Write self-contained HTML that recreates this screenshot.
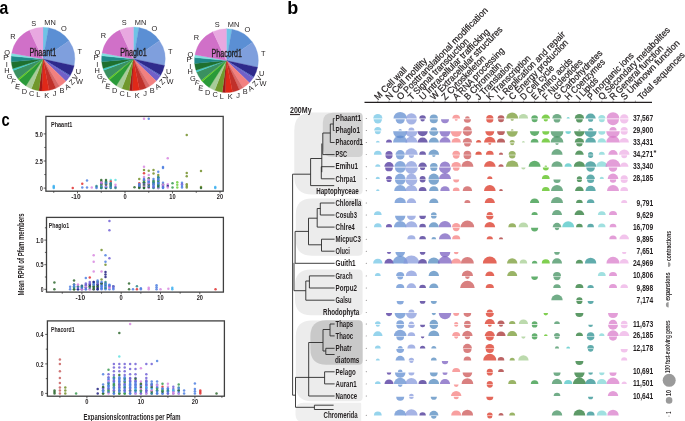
<!DOCTYPE html>
<html><head><meta charset="utf-8"><style>
html,body{margin:0;padding:0;background:#fff;}
svg{display:block;font-family:"Liberation Sans", sans-serif;will-change:transform;}
</style></head><body>
<svg width="685" height="421" viewBox="0 0 685 421">
<rect width="685" height="421" fill="#fff"/>
<text x="-0.50" y="13.80" font-size="18" text-anchor="start" font-weight="bold" textLength="8.80" lengthAdjust="spacingAndGlyphs" fill="#000">a</text>
<text x="287.30" y="13.80" font-size="18" text-anchor="start" font-weight="bold" fill="#000">b</text>
<text x="1.60" y="126.30" font-size="18" text-anchor="start" font-weight="bold" textLength="8.20" lengthAdjust="spacingAndGlyphs" fill="#000">c</text>
<path d="M43.00,59.10L43.00,27.30A31.8,31.8 0 0 1 48.52,27.78Z" fill="#6ec3e6" stroke="#6ec3e6" stroke-width="0.3"/>
<path d="M43.00,59.10L48.52,27.78A31.8,31.8 0 0 1 69.05,40.86Z" fill="#5b8fd4" stroke="#5b8fd4" stroke-width="0.3"/>
<path d="M43.00,59.10L69.05,40.86A31.8,31.8 0 0 1 74.11,65.71Z" fill="#7f9fdd" stroke="#7f9fdd" stroke-width="0.3"/>
<path d="M43.00,59.10L74.11,65.71A31.8,31.8 0 0 1 70.26,75.48Z" fill="#2e2a8c" stroke="#2e2a8c" stroke-width="0.3"/>
<path d="M43.00,59.10L70.26,75.48A31.8,31.8 0 0 1 69.67,76.42Z" fill="#4a60c0" stroke="#4a60c0" stroke-width="0.3"/>
<path d="M43.00,59.10L69.67,76.42A31.8,31.8 0 0 1 65.88,81.19Z" fill="#7060c8" stroke="#7060c8" stroke-width="0.3"/>
<path d="M43.00,59.10L65.88,81.19A31.8,31.8 0 0 1 59.62,86.21Z" fill="#f28080" stroke="#f28080" stroke-width="0.3"/>
<path d="M43.00,59.10L59.62,86.21A31.8,31.8 0 0 1 55.93,88.15Z" fill="#d86868" stroke="#d86868" stroke-width="0.3"/>
<path d="M43.00,59.10L55.93,88.15A31.8,31.8 0 0 1 49.07,90.32Z" fill="#c0302a" stroke="#c0302a" stroke-width="0.3"/>
<path d="M43.00,59.10L49.07,90.32A31.8,31.8 0 0 1 41.89,90.88Z" fill="#e02818" stroke="#e02818" stroke-width="0.3"/>
<path d="M43.00,59.10L41.89,90.88A31.8,31.8 0 0 1 38.85,90.63Z" fill="#a01818" stroke="#a01818" stroke-width="0.3"/>
<path d="M43.00,59.10L38.85,90.63A31.8,31.8 0 0 1 31.35,88.69Z" fill="#70982c" stroke="#70982c" stroke-width="0.3"/>
<path d="M43.00,59.10L31.35,88.69A31.8,31.8 0 0 1 25.91,85.92Z" fill="#a8cc98" stroke="#a8cc98" stroke-width="0.3"/>
<path d="M43.00,59.10L25.91,85.92A31.8,31.8 0 0 1 19.00,79.96Z" fill="#2a9a38" stroke="#2a9a38" stroke-width="0.3"/>
<path d="M43.00,59.10L19.00,79.96A31.8,31.8 0 0 1 17.94,78.68Z" fill="#5cc81c" stroke="#5cc81c" stroke-width="0.3"/>
<path d="M43.00,59.10L17.94,78.68A31.8,31.8 0 0 1 13.31,70.50Z" fill="#3a9060" stroke="#3a9060" stroke-width="0.3"/>
<path d="M43.00,59.10L13.31,70.50A31.8,31.8 0 0 1 12.67,68.66Z" fill="#40c8c8" stroke="#40c8c8" stroke-width="0.3"/>
<path d="M43.00,59.10L12.67,68.66A31.8,31.8 0 0 1 11.32,61.87Z" fill="#1e7030" stroke="#1e7030" stroke-width="0.3"/>
<path d="M43.00,59.10L11.32,61.87A31.8,31.8 0 0 1 11.35,56.05Z" fill="#208888" stroke="#208888" stroke-width="0.3"/>
<path d="M43.00,59.10L11.35,56.05A31.8,31.8 0 0 1 11.73,53.30Z" fill="#80e0e0" stroke="#80e0e0" stroke-width="0.3"/>
<path d="M43.00,59.10L11.73,53.30A31.8,31.8 0 0 1 29.56,30.28Z" fill="#d070c8" stroke="#d070c8" stroke-width="0.3"/>
<path d="M43.00,59.10L29.56,30.28A31.8,31.8 0 0 1 43.00,27.30Z" fill="#e8a8e0" stroke="#e8a8e0" stroke-width="0.3"/>
<text x="29.40" y="56.20" font-size="11.5" text-anchor="start" textLength="26.80" lengthAdjust="spacingAndGlyphs" fill="#231f20" stroke="#231f20" stroke-width="0.35">Phaant1</text>
<text x="33.70" y="25.60" font-size="7.4" text-anchor="middle" fill="#231f20">S</text>
<text x="50.10" y="25.15" font-size="7.4" text-anchor="middle" fill="#231f20">MN</text>
<text x="63.90" y="30.85" font-size="7.4" text-anchor="middle" fill="#231f20">O</text>
<text x="79.80" y="54.10" font-size="7.4" text-anchor="middle" fill="#231f20">T</text>
<text x="13.00" y="38.60" font-size="7.4" text-anchor="middle" fill="#231f20">R</text>
<text x="7.00" y="55.30" font-size="7.4" text-anchor="middle" fill="#231f20">Q</text>
<text x="5.60" y="60.20" font-size="7.4" text-anchor="middle" fill="#231f20">P</text>
<text x="6.80" y="67.10" font-size="7.4" text-anchor="middle" fill="#231f20">I</text>
<text x="6.80" y="72.70" font-size="7.4" text-anchor="middle" fill="#231f20">H</text>
<text x="9.50" y="79.30" font-size="7.4" text-anchor="middle" fill="#231f20">G</text>
<text x="13.60" y="84.00" font-size="7.4" text-anchor="middle" fill="#231f20" transform="rotate(15 13.60 81.40)">F</text>
<text x="17.50" y="89.00" font-size="7.4" text-anchor="middle" fill="#231f20" transform="rotate(8 17.50 86.40)">E</text>
<text x="24.30" y="93.60" font-size="7.4" text-anchor="middle" fill="#231f20">D</text>
<text x="31.70" y="95.90" font-size="7.4" text-anchor="middle" fill="#231f20">C</text>
<text x="38.30" y="97.10" font-size="7.4" text-anchor="middle" fill="#231f20">L</text>
<text x="46.80" y="97.70" font-size="7.4" text-anchor="middle" fill="#231f20">K</text>
<text x="54.60" y="96.20" font-size="7.4" text-anchor="middle" fill="#231f20">J</text>
<text x="61.90" y="92.90" font-size="7.4" text-anchor="middle" fill="#231f20">B</text>
<text x="67.30" y="89.30" font-size="7.4" text-anchor="middle" fill="#231f20" transform="rotate(-30 67.30 86.70)">A</text>
<text x="71.70" y="84.60" font-size="7.4" text-anchor="middle" fill="#231f20" transform="rotate(-45 71.70 82.00)">Z</text>
<text x="75.30" y="79.60" font-size="7.4" text-anchor="middle" fill="#231f20" transform="rotate(-60 75.30 77.00)">V</text>
<text x="78.30" y="74.40" font-size="7.4" text-anchor="middle" fill="#231f20">U</text>
<text x="79.50" y="84.30" font-size="7.4" text-anchor="middle" fill="#231f20">W</text>
<path d="M133.40,58.90L133.40,27.10A31.8,31.8 0 0 1 138.92,27.58Z" fill="#6ec3e6" stroke="#6ec3e6" stroke-width="0.3"/>
<path d="M133.40,58.90L138.92,27.58A31.8,31.8 0 0 1 159.45,40.66Z" fill="#5b8fd4" stroke="#5b8fd4" stroke-width="0.3"/>
<path d="M133.40,58.90L159.45,40.66A31.8,31.8 0 0 1 164.51,65.51Z" fill="#7f9fdd" stroke="#7f9fdd" stroke-width="0.3"/>
<path d="M133.40,58.90L164.51,65.51A31.8,31.8 0 0 1 160.66,75.28Z" fill="#2e2a8c" stroke="#2e2a8c" stroke-width="0.3"/>
<path d="M133.40,58.90L160.66,75.28A31.8,31.8 0 0 1 160.07,76.22Z" fill="#4a60c0" stroke="#4a60c0" stroke-width="0.3"/>
<path d="M133.40,58.90L160.07,76.22A31.8,31.8 0 0 1 156.28,80.99Z" fill="#7060c8" stroke="#7060c8" stroke-width="0.3"/>
<path d="M133.40,58.90L156.28,80.99A31.8,31.8 0 0 1 150.02,86.01Z" fill="#f28080" stroke="#f28080" stroke-width="0.3"/>
<path d="M133.40,58.90L150.02,86.01A31.8,31.8 0 0 1 146.33,87.95Z" fill="#d86868" stroke="#d86868" stroke-width="0.3"/>
<path d="M133.40,58.90L146.33,87.95A31.8,31.8 0 0 1 139.47,90.12Z" fill="#c0302a" stroke="#c0302a" stroke-width="0.3"/>
<path d="M133.40,58.90L139.47,90.12A31.8,31.8 0 0 1 132.29,90.68Z" fill="#e02818" stroke="#e02818" stroke-width="0.3"/>
<path d="M133.40,58.90L132.29,90.68A31.8,31.8 0 0 1 129.25,90.43Z" fill="#a01818" stroke="#a01818" stroke-width="0.3"/>
<path d="M133.40,58.90L129.25,90.43A31.8,31.8 0 0 1 121.75,88.49Z" fill="#70982c" stroke="#70982c" stroke-width="0.3"/>
<path d="M133.40,58.90L121.75,88.49A31.8,31.8 0 0 1 116.31,85.72Z" fill="#a8cc98" stroke="#a8cc98" stroke-width="0.3"/>
<path d="M133.40,58.90L116.31,85.72A31.8,31.8 0 0 1 109.40,79.76Z" fill="#2a9a38" stroke="#2a9a38" stroke-width="0.3"/>
<path d="M133.40,58.90L109.40,79.76A31.8,31.8 0 0 1 108.34,78.48Z" fill="#5cc81c" stroke="#5cc81c" stroke-width="0.3"/>
<path d="M133.40,58.90L108.34,78.48A31.8,31.8 0 0 1 103.71,70.30Z" fill="#3a9060" stroke="#3a9060" stroke-width="0.3"/>
<path d="M133.40,58.90L103.71,70.30A31.8,31.8 0 0 1 103.07,68.46Z" fill="#40c8c8" stroke="#40c8c8" stroke-width="0.3"/>
<path d="M133.40,58.90L103.07,68.46A31.8,31.8 0 0 1 101.72,61.67Z" fill="#1e7030" stroke="#1e7030" stroke-width="0.3"/>
<path d="M133.40,58.90L101.72,61.67A31.8,31.8 0 0 1 101.75,55.85Z" fill="#208888" stroke="#208888" stroke-width="0.3"/>
<path d="M133.40,58.90L101.75,55.85A31.8,31.8 0 0 1 102.13,53.10Z" fill="#80e0e0" stroke="#80e0e0" stroke-width="0.3"/>
<path d="M133.40,58.90L102.13,53.10A31.8,31.8 0 0 1 119.96,30.08Z" fill="#d070c8" stroke="#d070c8" stroke-width="0.3"/>
<path d="M133.40,58.90L119.96,30.08A31.8,31.8 0 0 1 133.40,27.10Z" fill="#e8a8e0" stroke="#e8a8e0" stroke-width="0.3"/>
<text x="120.20" y="55.70" font-size="11.5" text-anchor="start" textLength="26.60" lengthAdjust="spacingAndGlyphs" fill="#231f20" stroke="#231f20" stroke-width="0.35">Phaglo1</text>
<text x="124.10" y="25.40" font-size="7.4" text-anchor="middle" fill="#231f20">S</text>
<text x="140.50" y="24.95" font-size="7.4" text-anchor="middle" fill="#231f20">MN</text>
<text x="154.30" y="30.65" font-size="7.4" text-anchor="middle" fill="#231f20">O</text>
<text x="170.20" y="53.90" font-size="7.4" text-anchor="middle" fill="#231f20">T</text>
<text x="103.40" y="38.40" font-size="7.4" text-anchor="middle" fill="#231f20">R</text>
<text x="97.40" y="55.10" font-size="7.4" text-anchor="middle" fill="#231f20">Q</text>
<text x="96.00" y="60.00" font-size="7.4" text-anchor="middle" fill="#231f20">P</text>
<text x="97.20" y="66.90" font-size="7.4" text-anchor="middle" fill="#231f20">I</text>
<text x="97.20" y="72.50" font-size="7.4" text-anchor="middle" fill="#231f20">H</text>
<text x="99.90" y="79.10" font-size="7.4" text-anchor="middle" fill="#231f20">G</text>
<text x="104.00" y="83.80" font-size="7.4" text-anchor="middle" fill="#231f20" transform="rotate(15 104.00 81.20)">F</text>
<text x="107.90" y="88.80" font-size="7.4" text-anchor="middle" fill="#231f20" transform="rotate(8 107.90 86.20)">E</text>
<text x="114.70" y="93.40" font-size="7.4" text-anchor="middle" fill="#231f20">D</text>
<text x="122.10" y="95.70" font-size="7.4" text-anchor="middle" fill="#231f20">C</text>
<text x="128.70" y="96.90" font-size="7.4" text-anchor="middle" fill="#231f20">L</text>
<text x="137.20" y="97.50" font-size="7.4" text-anchor="middle" fill="#231f20">K</text>
<text x="145.00" y="96.00" font-size="7.4" text-anchor="middle" fill="#231f20">J</text>
<text x="152.30" y="92.70" font-size="7.4" text-anchor="middle" fill="#231f20">B</text>
<text x="157.70" y="89.10" font-size="7.4" text-anchor="middle" fill="#231f20" transform="rotate(-30 157.70 86.50)">A</text>
<text x="162.10" y="84.40" font-size="7.4" text-anchor="middle" fill="#231f20" transform="rotate(-45 162.10 81.80)">Z</text>
<text x="165.70" y="79.40" font-size="7.4" text-anchor="middle" fill="#231f20" transform="rotate(-60 165.70 76.80)">V</text>
<text x="168.70" y="74.20" font-size="7.4" text-anchor="middle" fill="#231f20">U</text>
<text x="169.90" y="84.10" font-size="7.4" text-anchor="middle" fill="#231f20">W</text>
<path d="M226.40,60.60L226.40,28.70A31.9,31.9 0 0 1 231.94,29.18Z" fill="#6ec3e6" stroke="#6ec3e6" stroke-width="0.3"/>
<path d="M226.40,60.60L231.94,29.18A31.9,31.9 0 0 1 252.53,42.30Z" fill="#5b8fd4" stroke="#5b8fd4" stroke-width="0.3"/>
<path d="M226.40,60.60L252.53,42.30A31.9,31.9 0 0 1 257.60,67.23Z" fill="#7f9fdd" stroke="#7f9fdd" stroke-width="0.3"/>
<path d="M226.40,60.60L257.60,67.23A31.9,31.9 0 0 1 253.74,77.03Z" fill="#2e2a8c" stroke="#2e2a8c" stroke-width="0.3"/>
<path d="M226.40,60.60L253.74,77.03A31.9,31.9 0 0 1 253.15,77.97Z" fill="#4a60c0" stroke="#4a60c0" stroke-width="0.3"/>
<path d="M226.40,60.60L253.15,77.97A31.9,31.9 0 0 1 249.35,82.76Z" fill="#7060c8" stroke="#7060c8" stroke-width="0.3"/>
<path d="M226.40,60.60L249.35,82.76A31.9,31.9 0 0 1 243.07,87.80Z" fill="#f28080" stroke="#f28080" stroke-width="0.3"/>
<path d="M226.40,60.60L243.07,87.80A31.9,31.9 0 0 1 239.37,89.74Z" fill="#d86868" stroke="#d86868" stroke-width="0.3"/>
<path d="M226.40,60.60L239.37,89.74A31.9,31.9 0 0 1 232.49,91.91Z" fill="#c0302a" stroke="#c0302a" stroke-width="0.3"/>
<path d="M226.40,60.60L232.49,91.91A31.9,31.9 0 0 1 225.29,92.48Z" fill="#e02818" stroke="#e02818" stroke-width="0.3"/>
<path d="M226.40,60.60L225.29,92.48A31.9,31.9 0 0 1 222.24,92.23Z" fill="#a01818" stroke="#a01818" stroke-width="0.3"/>
<path d="M226.40,60.60L222.24,92.23A31.9,31.9 0 0 1 214.71,90.28Z" fill="#70982c" stroke="#70982c" stroke-width="0.3"/>
<path d="M226.40,60.60L214.71,90.28A31.9,31.9 0 0 1 209.26,87.50Z" fill="#a8cc98" stroke="#a8cc98" stroke-width="0.3"/>
<path d="M226.40,60.60L209.26,87.50A31.9,31.9 0 0 1 202.32,81.53Z" fill="#2a9a38" stroke="#2a9a38" stroke-width="0.3"/>
<path d="M226.40,60.60L202.32,81.53A31.9,31.9 0 0 1 201.26,80.24Z" fill="#5cc81c" stroke="#5cc81c" stroke-width="0.3"/>
<path d="M226.40,60.60L201.26,80.24A31.9,31.9 0 0 1 196.62,72.03Z" fill="#3a9060" stroke="#3a9060" stroke-width="0.3"/>
<path d="M226.40,60.60L196.62,72.03A31.9,31.9 0 0 1 195.98,70.19Z" fill="#40c8c8" stroke="#40c8c8" stroke-width="0.3"/>
<path d="M226.40,60.60L195.98,70.19A31.9,31.9 0 0 1 194.62,63.38Z" fill="#1e7030" stroke="#1e7030" stroke-width="0.3"/>
<path d="M226.40,60.60L194.62,63.38A31.9,31.9 0 0 1 194.65,57.54Z" fill="#208888" stroke="#208888" stroke-width="0.3"/>
<path d="M226.40,60.60L194.65,57.54A31.9,31.9 0 0 1 195.03,54.79Z" fill="#80e0e0" stroke="#80e0e0" stroke-width="0.3"/>
<path d="M226.40,60.60L195.03,54.79A31.9,31.9 0 0 1 212.92,31.69Z" fill="#d070c8" stroke="#d070c8" stroke-width="0.3"/>
<path d="M226.40,60.60L212.92,31.69A31.9,31.9 0 0 1 226.40,28.70Z" fill="#e8a8e0" stroke="#e8a8e0" stroke-width="0.3"/>
<text x="211.60" y="57.30" font-size="11.5" text-anchor="start" textLength="30.30" lengthAdjust="spacingAndGlyphs" fill="#231f20" stroke="#231f20" stroke-width="0.35">Phacord1</text>
<text x="217.10" y="27.10" font-size="7.4" text-anchor="middle" fill="#231f20">S</text>
<text x="233.50" y="26.65" font-size="7.4" text-anchor="middle" fill="#231f20">MN</text>
<text x="247.30" y="32.35" font-size="7.4" text-anchor="middle" fill="#231f20">O</text>
<text x="263.20" y="55.60" font-size="7.4" text-anchor="middle" fill="#231f20">T</text>
<text x="196.40" y="40.10" font-size="7.4" text-anchor="middle" fill="#231f20">R</text>
<text x="190.40" y="56.80" font-size="7.4" text-anchor="middle" fill="#231f20">Q</text>
<text x="189.00" y="61.70" font-size="7.4" text-anchor="middle" fill="#231f20">P</text>
<text x="190.20" y="68.60" font-size="7.4" text-anchor="middle" fill="#231f20">I</text>
<text x="190.20" y="74.20" font-size="7.4" text-anchor="middle" fill="#231f20">H</text>
<text x="192.90" y="80.80" font-size="7.4" text-anchor="middle" fill="#231f20">G</text>
<text x="197.00" y="85.50" font-size="7.4" text-anchor="middle" fill="#231f20" transform="rotate(15 197.00 82.90)">F</text>
<text x="200.90" y="90.50" font-size="7.4" text-anchor="middle" fill="#231f20" transform="rotate(8 200.90 87.90)">E</text>
<text x="207.70" y="95.10" font-size="7.4" text-anchor="middle" fill="#231f20">D</text>
<text x="215.10" y="97.40" font-size="7.4" text-anchor="middle" fill="#231f20">C</text>
<text x="221.70" y="98.60" font-size="7.4" text-anchor="middle" fill="#231f20">L</text>
<text x="230.20" y="99.20" font-size="7.4" text-anchor="middle" fill="#231f20">K</text>
<text x="238.00" y="97.70" font-size="7.4" text-anchor="middle" fill="#231f20">J</text>
<text x="245.30" y="94.40" font-size="7.4" text-anchor="middle" fill="#231f20">B</text>
<text x="250.70" y="90.80" font-size="7.4" text-anchor="middle" fill="#231f20" transform="rotate(-30 250.70 88.20)">A</text>
<text x="255.10" y="86.10" font-size="7.4" text-anchor="middle" fill="#231f20" transform="rotate(-45 255.10 83.50)">Z</text>
<text x="258.70" y="81.10" font-size="7.4" text-anchor="middle" fill="#231f20" transform="rotate(-60 258.70 78.50)">V</text>
<text x="261.70" y="75.90" font-size="7.4" text-anchor="middle" fill="#231f20">U</text>
<text x="262.90" y="85.80" font-size="7.4" text-anchor="middle" fill="#231f20">W</text>
<text x="378.10" y="100.40" font-size="9.2" textLength="41.80" lengthAdjust="spacingAndGlyphs" fill="#231f20" stroke="#231f20" stroke-width="0.22" transform="rotate(-45.5 378.10 100.40)">M Cell wall</text>
<text x="389.30" y="100.40" font-size="9.2" textLength="54.74" lengthAdjust="spacingAndGlyphs" fill="#231f20" stroke="#231f20" stroke-width="0.22" transform="rotate(-45.5 389.30 100.40)">N Cell motility</text>
<text x="400.50" y="100.40" font-size="9.2" textLength="125.50" lengthAdjust="spacingAndGlyphs" fill="#231f20" stroke="#231f20" stroke-width="0.22" transform="rotate(-45.5 400.50 100.40)">O Posttranslational modification</text>
<text x="411.70" y="100.40" font-size="9.2" textLength="82.30" lengthAdjust="spacingAndGlyphs" fill="#231f20" stroke="#231f20" stroke-width="0.22" transform="rotate(-45.5 411.70 100.40)">T Signal transduction</text>
<text x="422.90" y="100.40" font-size="9.2" textLength="95.79" lengthAdjust="spacingAndGlyphs" fill="#231f20" stroke="#231f20" stroke-width="0.22" transform="rotate(-45.5 422.90 100.40)">U Intracellular trafficking</text>
<text x="434.10" y="100.40" font-size="9.2" textLength="98.55" lengthAdjust="spacingAndGlyphs" fill="#231f20" stroke="#231f20" stroke-width="0.22" transform="rotate(-45.5 434.10 100.40)">W Extracellular structures</text>
<text x="445.30" y="100.40" font-size="9.2" textLength="58.29" lengthAdjust="spacingAndGlyphs" fill="#231f20" stroke="#231f20" stroke-width="0.22" transform="rotate(-45.5 445.30 100.40)">Z Cytoskeleton</text>
<text x="456.50" y="100.40" font-size="9.2" textLength="68.98" lengthAdjust="spacingAndGlyphs" fill="#231f20" stroke="#231f20" stroke-width="0.22" transform="rotate(-45.5 456.50 100.40)">A RNA processing</text>
<text x="467.70" y="100.40" font-size="9.2" textLength="48.63" lengthAdjust="spacingAndGlyphs" fill="#231f20" stroke="#231f20" stroke-width="0.22" transform="rotate(-45.5 467.70 100.40)">B Chromatin</text>
<text x="478.90" y="100.40" font-size="9.2" textLength="48.86" lengthAdjust="spacingAndGlyphs" fill="#231f20" stroke="#231f20" stroke-width="0.22" transform="rotate(-45.5 478.90 100.40)">J Translation</text>
<text x="490.10" y="100.40" font-size="9.2" textLength="58.51" lengthAdjust="spacingAndGlyphs" fill="#231f20" stroke="#231f20" stroke-width="0.22" transform="rotate(-45.5 490.10 100.40)">K Transcription</text>
<text x="501.30" y="100.40" font-size="9.2" textLength="91.87" lengthAdjust="spacingAndGlyphs" fill="#231f20" stroke="#231f20" stroke-width="0.22" transform="rotate(-45.5 501.30 100.40)">L Replication and repair</text>
<text x="512.50" y="100.40" font-size="9.2" textLength="80.28" lengthAdjust="spacingAndGlyphs" fill="#231f20" stroke="#231f20" stroke-width="0.22" transform="rotate(-45.5 512.50 100.40)">C Energy production</text>
<text x="523.70" y="100.40" font-size="9.2" textLength="44.38" lengthAdjust="spacingAndGlyphs" fill="#231f20" stroke="#231f20" stroke-width="0.22" transform="rotate(-45.5 523.70 100.40)">D Cell cycle</text>
<text x="534.90" y="100.40" font-size="9.2" textLength="54.45" lengthAdjust="spacingAndGlyphs" fill="#231f20" stroke="#231f20" stroke-width="0.22" transform="rotate(-45.5 534.90 100.40)">E Amino acids</text>
<text x="546.10" y="100.40" font-size="9.2" textLength="52.99" lengthAdjust="spacingAndGlyphs" fill="#231f20" stroke="#231f20" stroke-width="0.22" transform="rotate(-45.5 546.10 100.40)">F Nucleotides</text>
<text x="557.30" y="100.40" font-size="9.2" textLength="65.37" lengthAdjust="spacingAndGlyphs" fill="#231f20" stroke="#231f20" stroke-width="0.22" transform="rotate(-45.5 557.30 100.40)">G Carbohydrates</text>
<text x="568.50" y="100.40" font-size="9.2" textLength="53.10" lengthAdjust="spacingAndGlyphs" fill="#231f20" stroke="#231f20" stroke-width="0.22" transform="rotate(-45.5 568.50 100.40)">H Coenzymes</text>
<text x="579.70" y="100.40" font-size="9.2" textLength="27.30" lengthAdjust="spacingAndGlyphs" fill="#231f20" stroke="#231f20" stroke-width="0.22" transform="rotate(-45.5 579.70 100.40)">I Lipids</text>
<text x="590.90" y="100.40" font-size="9.2" textLength="62.06" lengthAdjust="spacingAndGlyphs" fill="#231f20" stroke="#231f20" stroke-width="0.22" transform="rotate(-45.5 590.90 100.40)">P Inorganic ions</text>
<text x="602.10" y="100.40" font-size="9.2" textLength="97.86" lengthAdjust="spacingAndGlyphs" fill="#231f20" stroke="#231f20" stroke-width="0.22" transform="rotate(-45.5 602.10 100.40)">Q Secondary metabolites</text>
<text x="613.30" y="100.40" font-size="9.2" textLength="72.23" lengthAdjust="spacingAndGlyphs" fill="#231f20" stroke="#231f20" stroke-width="0.22" transform="rotate(-45.5 613.30 100.40)">R General function</text>
<text x="624.50" y="100.40" font-size="9.2" textLength="79.45" lengthAdjust="spacingAndGlyphs" fill="#231f20" stroke="#231f20" stroke-width="0.22" transform="rotate(-45.5 624.50 100.40)">S Unknown function</text>
<text x="641.40" y="100.40" font-size="9.2" textLength="62.82" lengthAdjust="spacingAndGlyphs" fill="#231f20" stroke="#231f20" stroke-width="0.22" transform="rotate(-45.5 641.40 100.40)">Total sequences</text>
<line x1="364.5" y1="102.4" x2="652" y2="102.4" stroke="#231f20" stroke-width="1.2"/>
<line x1="377.80" y1="100.6" x2="377.80" y2="102" stroke="#231f20" stroke-width="0.4"/>
<line x1="389.00" y1="100.6" x2="389.00" y2="102" stroke="#231f20" stroke-width="0.4"/>
<line x1="400.20" y1="100.6" x2="400.20" y2="102" stroke="#231f20" stroke-width="0.4"/>
<line x1="411.40" y1="100.6" x2="411.40" y2="102" stroke="#231f20" stroke-width="0.4"/>
<line x1="422.60" y1="100.6" x2="422.60" y2="102" stroke="#231f20" stroke-width="0.4"/>
<line x1="433.80" y1="100.6" x2="433.80" y2="102" stroke="#231f20" stroke-width="0.4"/>
<line x1="445.00" y1="100.6" x2="445.00" y2="102" stroke="#231f20" stroke-width="0.4"/>
<line x1="456.20" y1="100.6" x2="456.20" y2="102" stroke="#231f20" stroke-width="0.4"/>
<line x1="467.40" y1="100.6" x2="467.40" y2="102" stroke="#231f20" stroke-width="0.4"/>
<line x1="478.60" y1="100.6" x2="478.60" y2="102" stroke="#231f20" stroke-width="0.4"/>
<line x1="489.80" y1="100.6" x2="489.80" y2="102" stroke="#231f20" stroke-width="0.4"/>
<line x1="501.00" y1="100.6" x2="501.00" y2="102" stroke="#231f20" stroke-width="0.4"/>
<line x1="512.20" y1="100.6" x2="512.20" y2="102" stroke="#231f20" stroke-width="0.4"/>
<line x1="523.40" y1="100.6" x2="523.40" y2="102" stroke="#231f20" stroke-width="0.4"/>
<line x1="534.60" y1="100.6" x2="534.60" y2="102" stroke="#231f20" stroke-width="0.4"/>
<line x1="545.80" y1="100.6" x2="545.80" y2="102" stroke="#231f20" stroke-width="0.4"/>
<line x1="557.00" y1="100.6" x2="557.00" y2="102" stroke="#231f20" stroke-width="0.4"/>
<line x1="568.20" y1="100.6" x2="568.20" y2="102" stroke="#231f20" stroke-width="0.4"/>
<line x1="579.40" y1="100.6" x2="579.40" y2="102" stroke="#231f20" stroke-width="0.4"/>
<line x1="590.60" y1="100.6" x2="590.60" y2="102" stroke="#231f20" stroke-width="0.4"/>
<line x1="601.80" y1="100.6" x2="601.80" y2="102" stroke="#231f20" stroke-width="0.4"/>
<line x1="613.00" y1="100.6" x2="613.00" y2="102" stroke="#231f20" stroke-width="0.4"/>
<line x1="624.20" y1="100.6" x2="624.20" y2="102" stroke="#231f20" stroke-width="0.4"/>
<line x1="635.40" y1="100.6" x2="635.40" y2="102" stroke="#231f20" stroke-width="0.4"/>
<path d="M312.3,112.4 L358.6,112.4 Q362.6,112.4 362.6,116.4 L362.6,190.6 Q362.6,194.6 358.6,194.6 L312.3,194.6 Q294.3,194.6 294.3,176.6 L294.3,130.4 Q294.3,112.4 312.3,112.4 Z" fill="#ececec"/>
<path d="M332.8,112.8 L358.6,112.8 Q362.6,112.8 362.6,116.8 L362.6,153.0 Q362.6,157.0 358.6,157.0 L332.8,157.0 Q322.8,157.0 322.8,147.0 L322.8,122.8 Q322.8,112.8 332.8,112.8 Z" fill="#d2d2d2"/>
<path d="M311.8,198.5 L358.6,198.5 Q362.6,198.5 362.6,202.5 L362.6,251.8 Q362.6,255.8 358.6,255.8 L311.8,255.8 Q295.8,255.8 295.8,239.8 L295.8,214.5 Q295.8,198.5 311.8,198.5 Z" fill="#ececec"/>
<path d="M311.0,269.5 L358.6,269.5 Q362.6,269.5 362.6,273.5 L362.6,311.3 Q362.6,315.3 358.6,315.3 L311.0,315.3 Q295.0,315.3 295.0,299.3 L295.0,285.5 Q295.0,269.5 311.0,269.5 Z" fill="#ececec"/>
<path d="M311.8,320.4 L358.6,320.4 Q362.6,320.4 362.6,324.4 L362.6,397.2 Q362.6,401.2 358.6,401.2 L311.8,401.2 Q295.8,401.2 295.8,385.2 L295.8,336.4 Q295.8,320.4 311.8,320.4 Z" fill="#ececec"/>
<path d="M326.4,320.3 L358.6,320.3 Q362.6,320.3 362.6,324.3 L362.6,360.7 Q362.6,364.7 358.6,364.7 L326.4,364.7 Q310.4,364.7 310.4,348.7 L310.4,336.3 Q310.4,320.3 326.4,320.3 Z" fill="#c9c9c9"/>
<path d="M303.5,402.7 L360.2,402.7 Q361.2,402.7 361.2,403.7 L361.2,421 Q361.2,422 360.2,422 L303.5,422 Q295.5,422 295.5,414 L295.5,410.7 Q295.5,402.7 303.5,402.7 Z" fill="#efefef"/>
<text x="335.50" y="121.25" font-size="9.2" text-anchor="start" font-weight="bold" textLength="25.70" lengthAdjust="spacingAndGlyphs" fill="#231f20">Phaant1</text>
<circle cx="366.2" cy="118.50" r="0.45" fill="#231f20"/>
<text x="335.50" y="133.25" font-size="9.2" text-anchor="start" font-weight="bold" textLength="24.40" lengthAdjust="spacingAndGlyphs" fill="#231f20">Phaglo1</text>
<circle cx="366.2" cy="130.50" r="0.45" fill="#231f20"/>
<text x="335.50" y="145.25" font-size="9.2" text-anchor="start" font-weight="bold" textLength="27.40" lengthAdjust="spacingAndGlyphs" fill="#231f20">Phacord1</text>
<circle cx="366.2" cy="142.50" r="0.45" fill="#231f20"/>
<text x="335.50" y="157.35" font-size="9.2" text-anchor="start" font-weight="bold" textLength="11.50" lengthAdjust="spacingAndGlyphs" fill="#231f20">PSC</text>
<circle cx="366.2" cy="154.60" r="0.45" fill="#231f20"/>
<text x="335.50" y="169.45" font-size="9.2" text-anchor="start" font-weight="bold" textLength="22.40" lengthAdjust="spacingAndGlyphs" fill="#231f20">Emihu1</text>
<circle cx="366.2" cy="166.70" r="0.45" fill="#231f20"/>
<text x="335.50" y="181.55" font-size="9.2" text-anchor="start" font-weight="bold" textLength="20.70" lengthAdjust="spacingAndGlyphs" fill="#231f20">Chrpa1</text>
<circle cx="366.2" cy="178.80" r="0.45" fill="#231f20"/>
<text x="316.20" y="193.55" font-size="9.2" text-anchor="start" font-weight="bold" textLength="42.40" lengthAdjust="spacingAndGlyphs" fill="#231f20">Haptophyceae</text>
<circle cx="366.2" cy="190.80" r="0.45" fill="#231f20"/>
<text x="335.50" y="205.75" font-size="9.2" text-anchor="start" font-weight="bold" textLength="25.90" lengthAdjust="spacingAndGlyphs" fill="#231f20">Chlorella</text>
<circle cx="366.2" cy="203.00" r="0.45" fill="#231f20"/>
<text x="335.50" y="217.75" font-size="9.2" text-anchor="start" font-weight="bold" textLength="21.40" lengthAdjust="spacingAndGlyphs" fill="#231f20">Cosub3</text>
<circle cx="366.2" cy="215.00" r="0.45" fill="#231f20"/>
<text x="335.50" y="229.85" font-size="9.2" text-anchor="start" font-weight="bold" textLength="19.30" lengthAdjust="spacingAndGlyphs" fill="#231f20">Chlre4</text>
<circle cx="366.2" cy="227.10" r="0.45" fill="#231f20"/>
<text x="335.50" y="241.95" font-size="9.2" text-anchor="start" font-weight="bold" textLength="25.30" lengthAdjust="spacingAndGlyphs" fill="#231f20">MicpuC3</text>
<circle cx="366.2" cy="239.20" r="0.45" fill="#231f20"/>
<text x="335.50" y="253.95" font-size="9.2" text-anchor="start" font-weight="bold" textLength="14.30" lengthAdjust="spacingAndGlyphs" fill="#231f20">Oluci</text>
<circle cx="366.2" cy="251.20" r="0.45" fill="#231f20"/>
<text x="335.50" y="266.05" font-size="9.2" text-anchor="start" font-weight="bold" textLength="20.10" lengthAdjust="spacingAndGlyphs" fill="#231f20">Guith1</text>
<circle cx="366.2" cy="263.30" r="0.45" fill="#231f20"/>
<text x="335.50" y="278.65" font-size="9.2" text-anchor="start" font-weight="bold" textLength="17.00" lengthAdjust="spacingAndGlyphs" fill="#231f20">Grach</text>
<circle cx="366.2" cy="275.90" r="0.45" fill="#231f20"/>
<text x="335.50" y="290.75" font-size="9.2" text-anchor="start" font-weight="bold" textLength="21.40" lengthAdjust="spacingAndGlyphs" fill="#231f20">Porpu2</text>
<circle cx="366.2" cy="288.00" r="0.45" fill="#231f20"/>
<text x="335.50" y="302.95" font-size="9.2" text-anchor="start" font-weight="bold" textLength="16.10" lengthAdjust="spacingAndGlyphs" fill="#231f20">Galsu</text>
<circle cx="366.2" cy="300.20" r="0.45" fill="#231f20"/>
<text x="322.90" y="315.15" font-size="9.2" text-anchor="start" font-weight="bold" textLength="36.40" lengthAdjust="spacingAndGlyphs" fill="#231f20">Rhodophyta</text>
<circle cx="366.2" cy="312.40" r="0.45" fill="#231f20"/>
<text x="335.50" y="326.75" font-size="9.2" text-anchor="start" font-weight="bold" textLength="17.70" lengthAdjust="spacingAndGlyphs" fill="#231f20">Thaps</text>
<circle cx="366.2" cy="324.00" r="0.45" fill="#231f20"/>
<text x="335.50" y="338.65" font-size="9.2" text-anchor="start" font-weight="bold" textLength="17.70" lengthAdjust="spacingAndGlyphs" fill="#231f20">Thaoc</text>
<circle cx="366.2" cy="335.90" r="0.45" fill="#231f20"/>
<text x="335.50" y="351.05" font-size="9.2" text-anchor="start" font-weight="bold" textLength="16.10" lengthAdjust="spacingAndGlyphs" fill="#231f20">Phatr</text>
<circle cx="366.2" cy="348.30" r="0.45" fill="#231f20"/>
<text x="335.00" y="363.05" font-size="9.2" text-anchor="start" font-weight="bold" textLength="24.30" lengthAdjust="spacingAndGlyphs" fill="#231f20">diatoms</text>
<circle cx="366.2" cy="360.30" r="0.45" fill="#231f20"/>
<text x="335.50" y="374.55" font-size="9.2" text-anchor="start" font-weight="bold" textLength="20.20" lengthAdjust="spacingAndGlyphs" fill="#231f20">Pelago</text>
<circle cx="366.2" cy="371.80" r="0.45" fill="#231f20"/>
<text x="335.50" y="386.65" font-size="9.2" text-anchor="start" font-weight="bold" textLength="21.10" lengthAdjust="spacingAndGlyphs" fill="#231f20">Auran1</text>
<circle cx="366.2" cy="383.90" r="0.45" fill="#231f20"/>
<text x="335.50" y="398.75" font-size="9.2" text-anchor="start" font-weight="bold" textLength="21.70" lengthAdjust="spacingAndGlyphs" fill="#231f20">Nanoce</text>
<circle cx="366.2" cy="396.00" r="0.45" fill="#231f20"/>
<text x="323.50" y="418.05" font-size="9.2" text-anchor="start" font-weight="bold" textLength="34.20" lengthAdjust="spacingAndGlyphs" fill="#231f20">Chromerida</text>
<circle cx="366.2" cy="415.30" r="0.45" fill="#231f20"/>
<path d="M333.3,118.50V130.50 M333.3,118.50H334.6 M333.3,130.50H334.6 M330.3,124.00H333.3 M330.3,124.00V142.50 M330.3,142.50H334.6 M322.8,133.00H330.3 M322.8,133.00V154.60 M322.8,154.60H334.6 M321.3,166.70V178.80 M321.3,166.70H334.6 M321.3,178.80H334.6 M321.8,143.50V172.20 M310.6,158.50H321.8 M310.6,158.50V185.60 M310.6,185.60H334.2 M292.6,174.20H310.6 M320.3,203.00V215.00 M320.3,203.00H334.6 M320.3,215.00H334.6 M317.2,208.50V227.10 M317.2,208.50H320.3 M317.2,227.10H334.6 M321.5,239.20V251.20 M321.5,239.20H334.6 M321.5,251.20H334.6 M308.5,218.20V244.80 M308.5,218.20H317.2 M308.5,244.80H321.5 M295.1,231.40V263.30 M295.1,231.40H308.5 M295.1,263.30H334.6 M309.4,275.90V288.00 M309.4,275.90H334.6 M309.4,288.00H334.6 M305.8,281.00V300.20 M305.8,281.00H309.4 M305.8,300.20H334.6 M294.0,262.90V290.70 M294.0,290.70H305.8 M330.0,324.00V335.90 M330.0,324.00H334.6 M330.0,335.90H334.6 M323.0,329.50H330.0 M325.8,348.30V354.50 M325.8,348.30H334.6 M325.8,354.50H334.6 M323.0,329.50V351.00 M323.0,351.00H325.8 M308.7,342.50H323.0 M308.7,342.50V396.00 M308.7,396.00H334.6 M324.6,371.80V383.90 M324.6,371.80H334.6 M324.6,383.90H334.6 M295.5,377.40H324.6 M295.5,377.40V407.30 M295.5,407.30H314.4 M314.4,405.20V409.50 M314.4,405.20H333.6 M314.4,409.50H333.6 M292.6,174.20V395.20 M292.6,395.20H295.5" fill="none" stroke="#2a2a2a" stroke-width="0.9"/>
<path d="M373.20,118.60A4.6,4.6 0 0 1 382.40,118.60Z" fill="#6dc3e5" fill-opacity="0.72"/>
<path d="M373.60,119.20A4.2,4.2 0 0 0 382.00,119.20Z" fill="#6dc3e5" fill-opacity="0.72"/>
<path d="M393.50,118.60A6.7,6.7 0 0 1 406.90,118.60Z" fill="#5c89ce" fill-opacity="0.72"/>
<path d="M395.60,119.20A4.6,4.6 0 0 0 404.80,119.20Z" fill="#5c89ce" fill-opacity="0.72"/>
<path d="M406.00,118.60A5.4,5.4 0 0 1 416.80,118.60Z" fill="#8397db" fill-opacity="0.72"/>
<path d="M406.00,119.20A5.4,5.4 0 0 0 416.80,119.20Z" fill="#8397db" fill-opacity="0.72"/>
<path d="M419.30,118.60A3.3,3.3 0 0 1 425.90,118.60Z" fill="#3b258e" fill-opacity="0.72"/>
<path d="M420.40,119.20A2.2,2.2 0 0 0 424.80,119.20Z" fill="#3b258e" fill-opacity="0.72"/>
<path d="M429.70,118.60A4.1,4.1 0 0 1 437.90,118.60Z" fill="#4c85bc" fill-opacity="0.72"/>
<path d="M429.70,119.20A4.1,4.1 0 0 0 437.90,119.20Z" fill="#4c85bc" fill-opacity="0.72"/>
<path d="M441.00,119.20A4.0,4.0 0 0 0 449.00,119.20Z" fill="#765abe" fill-opacity="0.72"/>
<path d="M452.30,118.60A3.9,3.9 0 0 1 460.10,118.60Z" fill="#f57b7b" fill-opacity="0.72"/>
<path d="M454.70,119.20A1.5,1.5 0 0 0 457.70,119.20Z" fill="#f57b7b" fill-opacity="0.72"/>
<path d="M465.00,118.60A2.4,2.4 0 0 1 469.80,118.60Z" fill="#ca4f4f" fill-opacity="0.72"/>
<path d="M463.80,119.20A3.6,3.6 0 0 0 471.00,119.20Z" fill="#ca4f4f" fill-opacity="0.72"/>
<path d="M486.20,118.60A3.6,3.6 0 0 1 493.40,118.60Z" fill="#da2d1a" fill-opacity="0.72"/>
<path d="M486.20,119.20A3.6,3.6 0 0 0 493.40,119.20Z" fill="#da2d1a" fill-opacity="0.72"/>
<path d="M497.60,118.60A3.4,3.4 0 0 1 504.40,118.60Z" fill="#a22828" fill-opacity="0.72"/>
<path d="M498.00,119.20A3.0,3.0 0 0 0 504.00,119.20Z" fill="#a22828" fill-opacity="0.72"/>
<path d="M506.20,118.60A6.0,6.0 0 0 1 518.20,118.60Z" fill="#73972d" fill-opacity="0.72"/>
<path d="M510.60,119.20A1.6,1.6 0 0 0 513.80,119.20Z" fill="#73972d" fill-opacity="0.72"/>
<path d="M518.70,118.60A4.7,4.7 0 0 1 528.10,118.60Z" fill="#a2cc8e" fill-opacity="0.72"/>
<path d="M531.20,118.60A3.4,3.4 0 0 1 538.00,118.60Z" fill="#289138" fill-opacity="0.72"/>
<path d="M531.60,119.20A3.0,3.0 0 0 0 537.60,119.20Z" fill="#289138" fill-opacity="0.72"/>
<path d="M541.60,118.60A4.2,4.2 0 0 1 550.00,118.60Z" fill="#4fbc0c" fill-opacity="0.72"/>
<path d="M543.60,119.20A2.2,2.2 0 0 0 548.00,119.20Z" fill="#4fbc0c" fill-opacity="0.72"/>
<path d="M552.30,118.60A4.7,4.7 0 0 1 561.70,118.60Z" fill="#3b8e5a" fill-opacity="0.72"/>
<path d="M553.60,119.20A3.4,3.4 0 0 0 560.40,119.20Z" fill="#3b8e5a" fill-opacity="0.72"/>
<path d="M566.60,118.60A1.6,1.6 0 0 1 569.80,118.60Z" fill="#46c3c3" fill-opacity="0.72"/>
<path d="M574.70,118.60A4.7,4.7 0 0 1 584.10,118.60Z" fill="#1f732d" fill-opacity="0.72"/>
<path d="M576.00,119.20A3.4,3.4 0 0 0 582.80,119.20Z" fill="#1f732d" fill-opacity="0.72"/>
<path d="M585.50,118.60A5.1,5.1 0 0 1 595.70,118.60Z" fill="#228c8c" fill-opacity="0.72"/>
<path d="M588.00,119.20A2.6,2.6 0 0 0 593.20,119.20Z" fill="#228c8c" fill-opacity="0.72"/>
<path d="M598.20,118.60A3.6,3.6 0 0 1 605.40,118.60Z" fill="#7bd4d4" fill-opacity="0.72"/>
<path d="M598.80,119.20A3.0,3.0 0 0 0 604.80,119.20Z" fill="#7bd4d4" fill-opacity="0.72"/>
<path d="M606.60,118.60A6.4,6.4 0 0 1 619.40,118.60Z" fill="#d878c9" fill-opacity="0.72"/>
<path d="M607.00,119.20A6.0,6.0 0 0 0 619.00,119.20Z" fill="#d878c9" fill-opacity="0.72"/>
<path d="M619.90,118.60A4.3,4.3 0 0 1 628.50,118.60Z" fill="#edade5" fill-opacity="0.72"/>
<path d="M619.90,119.20A4.3,4.3 0 0 0 628.50,119.20Z" fill="#edade5" fill-opacity="0.72"/>
<path d="M374.20,130.60A3.6,3.6 0 0 1 381.40,130.60Z" fill="#6dc3e5" fill-opacity="0.72"/>
<path d="M374.80,131.20A3.0,3.0 0 0 0 380.80,131.20Z" fill="#6dc3e5" fill-opacity="0.72"/>
<path d="M398.50,130.60A1.7,1.7 0 0 1 401.90,130.60Z" fill="#5c89ce" fill-opacity="0.72"/>
<path d="M393.10,131.20A7.1,7.1 0 0 0 407.30,131.20Z" fill="#5c89ce" fill-opacity="0.72"/>
<path d="M408.40,130.60A3.0,3.0 0 0 1 414.40,130.60Z" fill="#8397db" fill-opacity="0.72"/>
<path d="M405.40,131.20A6.0,6.0 0 0 0 417.40,131.20Z" fill="#8397db" fill-opacity="0.72"/>
<path d="M417.50,131.20A5.1,5.1 0 0 0 427.70,131.20Z" fill="#3b258e" fill-opacity="0.72"/>
<path d="M430.40,130.60A3.4,3.4 0 0 1 437.20,130.60Z" fill="#4c85bc" fill-opacity="0.72"/>
<path d="M429.10,131.20A4.7,4.7 0 0 0 438.50,131.20Z" fill="#4c85bc" fill-opacity="0.72"/>
<path d="M439.40,131.20A5.6,5.6 0 0 0 450.60,131.20Z" fill="#765abe" fill-opacity="0.72"/>
<path d="M450.60,131.20A5.6,5.6 0 0 0 461.80,131.20Z" fill="#f57b7b" fill-opacity="0.72"/>
<path d="M463.10,130.60A4.3,4.3 0 0 1 471.70,130.60Z" fill="#ca4f4f" fill-opacity="0.72"/>
<path d="M462.70,131.20A4.7,4.7 0 0 0 472.10,131.20Z" fill="#ca4f4f" fill-opacity="0.72"/>
<path d="M485.30,131.20A4.5,4.5 0 0 0 494.30,131.20Z" fill="#da2d1a" fill-opacity="0.72"/>
<path d="M497.10,131.20A3.9,3.9 0 0 0 504.90,131.20Z" fill="#a22828" fill-opacity="0.72"/>
<path d="M510.90,130.60A1.3,1.3 0 0 1 513.50,130.60Z" fill="#73972d" fill-opacity="0.72"/>
<path d="M506.60,131.20A5.6,5.6 0 0 0 517.80,131.20Z" fill="#73972d" fill-opacity="0.72"/>
<path d="M529.90,131.20A4.7,4.7 0 0 0 539.30,131.20Z" fill="#289138" fill-opacity="0.72"/>
<path d="M542.20,131.20A3.6,3.6 0 0 0 549.40,131.20Z" fill="#4fbc0c" fill-opacity="0.72"/>
<path d="M550.60,131.20A6.4,6.4 0 0 0 563.40,131.20Z" fill="#3b8e5a" fill-opacity="0.72"/>
<path d="M565.40,131.20A2.8,2.8 0 0 0 571.00,131.20Z" fill="#46c3c3" fill-opacity="0.72"/>
<path d="M578.30,130.60A1.1,1.1 0 0 1 580.50,130.60Z" fill="#1f732d" fill-opacity="0.72"/>
<path d="M574.10,131.20A5.3,5.3 0 0 0 584.70,131.20Z" fill="#1f732d" fill-opacity="0.72"/>
<path d="M588.00,130.60A2.6,2.6 0 0 1 593.20,130.60Z" fill="#228c8c" fill-opacity="0.72"/>
<path d="M584.60,131.20A6.0,6.0 0 0 0 596.60,131.20Z" fill="#228c8c" fill-opacity="0.72"/>
<path d="M598.20,131.20A3.6,3.6 0 0 0 605.40,131.20Z" fill="#7bd4d4" fill-opacity="0.72"/>
<path d="M609.40,130.60A3.6,3.6 0 0 1 616.60,130.60Z" fill="#d878c9" fill-opacity="0.72"/>
<path d="M606.20,131.20A6.8,6.8 0 0 0 619.80,131.20Z" fill="#d878c9" fill-opacity="0.72"/>
<path d="M620.60,130.60A3.6,3.6 0 0 1 627.80,130.60Z" fill="#edade5" fill-opacity="0.72"/>
<path d="M620.60,131.20A3.6,3.6 0 0 0 627.80,131.20Z" fill="#edade5" fill-opacity="0.72"/>
<path d="M375.90,142.60A1.9,1.9 0 0 1 379.70,142.60Z" fill="#6dc3e5" fill-opacity="0.72"/>
<path d="M386.00,142.60A3.0,3.0 0 0 1 392.00,142.60Z" fill="#442897" fill-opacity="0.72"/>
<path d="M393.10,142.60A7.1,7.1 0 0 1 407.30,142.60Z" fill="#5c89ce" fill-opacity="0.72"/>
<path d="M405.40,142.60A6.0,6.0 0 0 1 417.40,142.60Z" fill="#8397db" fill-opacity="0.72"/>
<path d="M417.50,142.60A5.1,5.1 0 0 1 427.70,142.60Z" fill="#3b258e" fill-opacity="0.72"/>
<path d="M428.70,142.60A5.1,5.1 0 0 1 438.90,142.60Z" fill="#4c85bc" fill-opacity="0.72"/>
<path d="M439.40,142.60A5.6,5.6 0 0 1 450.60,142.60Z" fill="#765abe" fill-opacity="0.72"/>
<path d="M451.50,142.60A4.7,4.7 0 0 1 460.90,142.60Z" fill="#f57b7b" fill-opacity="0.72"/>
<path d="M462.70,142.60A4.7,4.7 0 0 1 472.10,142.60Z" fill="#ca4f4f" fill-opacity="0.72"/>
<path d="M464.00,143.20A3.4,3.4 0 0 0 470.80,143.20Z" fill="#ca4f4f" fill-opacity="0.72"/>
<path d="M476.00,142.60A2.6,2.6 0 0 1 481.20,142.60Z" fill="#d4220c" fill-opacity="0.72"/>
<path d="M484.00,142.60A5.8,5.8 0 0 1 495.60,142.60Z" fill="#da2d1a" fill-opacity="0.72"/>
<path d="M488.30,143.20A1.5,1.5 0 0 0 491.30,143.20Z" fill="#da2d1a" fill-opacity="0.72"/>
<path d="M496.90,142.60A4.1,4.1 0 0 1 505.10,142.60Z" fill="#a22828" fill-opacity="0.72"/>
<path d="M509.60,142.60A2.6,2.6 0 0 1 514.80,142.60Z" fill="#73972d" fill-opacity="0.72"/>
<path d="M510.10,143.20A2.1,2.1 0 0 0 514.30,143.20Z" fill="#73972d" fill-opacity="0.72"/>
<path d="M521.90,142.60A1.5,1.5 0 0 1 524.90,142.60Z" fill="#a2cc8e" fill-opacity="0.72"/>
<path d="M530.70,142.60A3.9,3.9 0 0 1 538.50,142.60Z" fill="#289138" fill-opacity="0.72"/>
<path d="M541.50,142.60A4.3,4.3 0 0 1 550.10,142.60Z" fill="#4fbc0c" fill-opacity="0.72"/>
<path d="M550.60,142.60A6.4,6.4 0 0 1 563.40,142.60Z" fill="#3b8e5a" fill-opacity="0.72"/>
<path d="M555.30,143.20A1.7,1.7 0 0 0 558.70,143.20Z" fill="#3b8e5a" fill-opacity="0.72"/>
<path d="M574.70,142.60A4.7,4.7 0 0 1 584.10,142.60Z" fill="#1f732d" fill-opacity="0.72"/>
<path d="M576.20,143.20A3.2,3.2 0 0 0 582.60,143.20Z" fill="#1f732d" fill-opacity="0.72"/>
<path d="M585.30,142.60A5.3,5.3 0 0 1 595.90,142.60Z" fill="#228c8c" fill-opacity="0.72"/>
<path d="M597.50,142.60A4.3,4.3 0 0 1 606.10,142.60Z" fill="#7bd4d4" fill-opacity="0.72"/>
<path d="M606.20,142.60A6.8,6.8 0 0 1 619.80,142.60Z" fill="#d878c9" fill-opacity="0.72"/>
<path d="M619.50,142.60A4.7,4.7 0 0 1 628.90,142.60Z" fill="#edade5" fill-opacity="0.72"/>
<path d="M373.90,154.70A3.9,3.9 0 0 1 381.70,154.70Z" fill="#6dc3e5" fill-opacity="0.72"/>
<path d="M385.40,154.70A3.6,3.6 0 0 1 392.60,154.70Z" fill="#442897" fill-opacity="0.72"/>
<path d="M385.40,155.30A3.6,3.6 0 0 0 392.60,155.30Z" fill="#442897" fill-opacity="0.72"/>
<path d="M395.50,154.70A4.7,4.7 0 0 1 404.90,154.70Z" fill="#5c89ce" fill-opacity="0.72"/>
<path d="M395.90,155.30A4.3,4.3 0 0 0 404.50,155.30Z" fill="#5c89ce" fill-opacity="0.72"/>
<path d="M405.00,154.70A6.4,6.4 0 0 1 417.80,154.70Z" fill="#8397db" fill-opacity="0.72"/>
<path d="M408.80,155.30A2.6,2.6 0 0 0 414.00,155.30Z" fill="#8397db" fill-opacity="0.72"/>
<path d="M419.20,154.70A3.4,3.4 0 0 1 426.00,154.70Z" fill="#3b258e" fill-opacity="0.72"/>
<path d="M428.50,154.70A5.3,5.3 0 0 1 439.10,154.70Z" fill="#4c85bc" fill-opacity="0.72"/>
<path d="M432.10,155.30A1.7,1.7 0 0 0 435.50,155.30Z" fill="#4c85bc" fill-opacity="0.72"/>
<path d="M452.30,154.70A3.9,3.9 0 0 1 460.10,154.70Z" fill="#f57b7b" fill-opacity="0.72"/>
<path d="M452.80,155.30A3.4,3.4 0 0 0 459.60,155.30Z" fill="#f57b7b" fill-opacity="0.72"/>
<path d="M463.50,154.70A3.9,3.9 0 0 1 471.30,154.70Z" fill="#ca4f4f" fill-opacity="0.72"/>
<path d="M463.50,155.30A3.9,3.9 0 0 0 471.30,155.30Z" fill="#ca4f4f" fill-opacity="0.72"/>
<path d="M475.40,154.70A3.2,3.2 0 0 1 481.80,154.70Z" fill="#d4220c" fill-opacity="0.72"/>
<path d="M485.90,154.70A3.9,3.9 0 0 1 493.70,154.70Z" fill="#da2d1a" fill-opacity="0.72"/>
<path d="M498.90,154.70A2.1,2.1 0 0 1 503.10,154.70Z" fill="#a22828" fill-opacity="0.72"/>
<path d="M508.60,154.70A3.6,3.6 0 0 1 515.80,154.70Z" fill="#73972d" fill-opacity="0.72"/>
<path d="M509.00,155.30A3.2,3.2 0 0 0 515.40,155.30Z" fill="#73972d" fill-opacity="0.72"/>
<path d="M551.40,154.70A5.6,5.6 0 0 1 562.60,154.70Z" fill="#3b8e5a" fill-opacity="0.72"/>
<path d="M575.10,154.70A4.3,4.3 0 0 1 583.70,154.70Z" fill="#1f732d" fill-opacity="0.72"/>
<path d="M588.00,154.70A2.6,2.6 0 0 1 593.20,154.70Z" fill="#228c8c" fill-opacity="0.72"/>
<path d="M588.00,155.30A2.6,2.6 0 0 0 593.20,155.30Z" fill="#228c8c" fill-opacity="0.72"/>
<path d="M598.80,154.70A3.0,3.0 0 0 1 604.80,154.70Z" fill="#7bd4d4" fill-opacity="0.72"/>
<path d="M608.30,154.70A4.7,4.7 0 0 1 617.70,154.70Z" fill="#d878c9" fill-opacity="0.72"/>
<path d="M618.90,154.70A5.3,5.3 0 0 1 629.50,154.70Z" fill="#edade5" fill-opacity="0.72"/>
<path d="M621.20,155.30A3.0,3.0 0 0 0 627.20,155.30Z" fill="#edade5" fill-opacity="0.72"/>
<path d="M375.20,166.80A2.6,2.6 0 0 1 380.40,166.80Z" fill="#6dc3e5" fill-opacity="0.72"/>
<path d="M384.30,166.80A4.7,4.7 0 0 1 393.70,166.80Z" fill="#442897" fill-opacity="0.72"/>
<path d="M385.10,167.40A3.9,3.9 0 0 0 392.90,167.40Z" fill="#442897" fill-opacity="0.72"/>
<path d="M394.40,166.80A5.8,5.8 0 0 1 406.00,166.80Z" fill="#5c89ce" fill-opacity="0.72"/>
<path d="M394.90,167.40A5.3,5.3 0 0 0 405.50,167.40Z" fill="#5c89ce" fill-opacity="0.72"/>
<path d="M405.60,166.80A5.8,5.8 0 0 1 417.20,166.80Z" fill="#8397db" fill-opacity="0.72"/>
<path d="M405.00,167.40A6.4,6.4 0 0 0 417.80,167.40Z" fill="#8397db" fill-opacity="0.72"/>
<path d="M418.30,166.80A4.3,4.3 0 0 1 426.90,166.80Z" fill="#3b258e" fill-opacity="0.72"/>
<path d="M420.00,167.40A2.6,2.6 0 0 0 425.20,167.40Z" fill="#3b258e" fill-opacity="0.72"/>
<path d="M429.90,166.80A3.9,3.9 0 0 1 437.70,166.80Z" fill="#4c85bc" fill-opacity="0.72"/>
<path d="M430.20,167.40A3.6,3.6 0 0 0 437.40,167.40Z" fill="#4c85bc" fill-opacity="0.72"/>
<path d="M439.70,166.80A5.3,5.3 0 0 1 450.30,166.80Z" fill="#765abe" fill-opacity="0.72"/>
<path d="M439.00,167.40A6.0,6.0 0 0 0 451.00,167.40Z" fill="#765abe" fill-opacity="0.72"/>
<path d="M451.30,166.80A4.9,4.9 0 0 1 461.10,166.80Z" fill="#f57b7b" fill-opacity="0.72"/>
<path d="M452.80,167.40A3.4,3.4 0 0 0 459.60,167.40Z" fill="#f57b7b" fill-opacity="0.72"/>
<path d="M461.40,166.80A6.0,6.0 0 0 1 473.40,166.80Z" fill="#ca4f4f" fill-opacity="0.72"/>
<path d="M484.00,166.80A5.8,5.8 0 0 1 495.60,166.80Z" fill="#da2d1a" fill-opacity="0.72"/>
<path d="M498.40,166.80A2.6,2.6 0 0 1 503.60,166.80Z" fill="#a22828" fill-opacity="0.72"/>
<path d="M505.80,166.80A6.4,6.4 0 0 1 518.60,166.80Z" fill="#73972d" fill-opacity="0.72"/>
<path d="M521.30,167.40A2.1,2.1 0 0 0 525.50,167.40Z" fill="#a2cc8e" fill-opacity="0.72"/>
<path d="M528.60,166.80A6.0,6.0 0 0 1 540.60,166.80Z" fill="#289138" fill-opacity="0.72"/>
<path d="M544.50,166.80A1.3,1.3 0 0 1 547.10,166.80Z" fill="#4fbc0c" fill-opacity="0.72"/>
<path d="M542.80,167.40A3.0,3.0 0 0 0 548.80,167.40Z" fill="#4fbc0c" fill-opacity="0.72"/>
<path d="M551.40,166.80A5.6,5.6 0 0 1 562.60,166.80Z" fill="#3b8e5a" fill-opacity="0.72"/>
<path d="M564.60,166.80A3.6,3.6 0 0 1 571.80,166.80Z" fill="#46c3c3" fill-opacity="0.72"/>
<path d="M573.80,166.80A5.6,5.6 0 0 1 585.00,166.80Z" fill="#1f732d" fill-opacity="0.72"/>
<path d="M585.00,166.80A5.6,5.6 0 0 1 596.20,166.80Z" fill="#228c8c" fill-opacity="0.72"/>
<path d="M586.30,167.40A4.3,4.3 0 0 0 594.90,167.40Z" fill="#228c8c" fill-opacity="0.72"/>
<path d="M596.20,166.80A5.6,5.6 0 0 1 607.40,166.80Z" fill="#7bd4d4" fill-opacity="0.72"/>
<path d="M605.50,166.80A7.5,7.5 0 0 1 620.50,166.80Z" fill="#d878c9" fill-opacity="0.72"/>
<path d="M608.70,167.40A4.3,4.3 0 0 0 617.30,167.40Z" fill="#d878c9" fill-opacity="0.72"/>
<path d="M619.90,166.80A4.3,4.3 0 0 1 628.50,166.80Z" fill="#edade5" fill-opacity="0.72"/>
<path d="M375.70,178.90A2.1,2.1 0 0 1 379.90,178.90Z" fill="#6dc3e5" fill-opacity="0.72"/>
<path d="M386.00,178.90A3.0,3.0 0 0 1 392.00,178.90Z" fill="#442897" fill-opacity="0.72"/>
<path d="M386.40,179.50A2.6,2.6 0 0 0 391.60,179.50Z" fill="#442897" fill-opacity="0.72"/>
<path d="M394.90,178.90A5.3,5.3 0 0 1 405.50,178.90Z" fill="#5c89ce" fill-opacity="0.72"/>
<path d="M394.90,179.50A5.3,5.3 0 0 0 405.50,179.50Z" fill="#5c89ce" fill-opacity="0.72"/>
<path d="M406.10,178.90A5.3,5.3 0 0 1 416.70,178.90Z" fill="#8397db" fill-opacity="0.72"/>
<path d="M405.40,179.50A6.0,6.0 0 0 0 417.40,179.50Z" fill="#8397db" fill-opacity="0.72"/>
<path d="M419.60,178.90A3.0,3.0 0 0 1 425.60,178.90Z" fill="#3b258e" fill-opacity="0.72"/>
<path d="M419.60,179.50A3.0,3.0 0 0 0 425.60,179.50Z" fill="#3b258e" fill-opacity="0.72"/>
<path d="M428.50,178.90A5.3,5.3 0 0 1 439.10,178.90Z" fill="#4c85bc" fill-opacity="0.72"/>
<path d="M428.50,179.50A5.3,5.3 0 0 0 439.10,179.50Z" fill="#4c85bc" fill-opacity="0.72"/>
<path d="M439.00,178.90A6.0,6.0 0 0 1 451.00,178.90Z" fill="#765abe" fill-opacity="0.72"/>
<path d="M453.20,179.50A3.0,3.0 0 0 0 459.20,179.50Z" fill="#f57b7b" fill-opacity="0.72"/>
<path d="M487.20,178.90A2.6,2.6 0 0 1 492.40,178.90Z" fill="#da2d1a" fill-opacity="0.72"/>
<path d="M541.90,178.90A3.9,3.9 0 0 1 549.70,178.90Z" fill="#4fbc0c" fill-opacity="0.72"/>
<path d="M553.40,179.50A3.6,3.6 0 0 0 560.60,179.50Z" fill="#3b8e5a" fill-opacity="0.72"/>
<path d="M576.80,178.90A2.6,2.6 0 0 1 582.00,178.90Z" fill="#1f732d" fill-opacity="0.72"/>
<path d="M576.80,179.50A2.6,2.6 0 0 0 582.00,179.50Z" fill="#1f732d" fill-opacity="0.72"/>
<path d="M586.30,178.90A4.3,4.3 0 0 1 594.90,178.90Z" fill="#228c8c" fill-opacity="0.72"/>
<path d="M587.00,179.50A3.6,3.6 0 0 0 594.20,179.50Z" fill="#228c8c" fill-opacity="0.72"/>
<path d="M599.70,178.90A2.1,2.1 0 0 1 603.90,178.90Z" fill="#7bd4d4" fill-opacity="0.72"/>
<path d="M607.70,178.90A5.3,5.3 0 0 1 618.30,178.90Z" fill="#d878c9" fill-opacity="0.72"/>
<path d="M609.80,179.50A3.2,3.2 0 0 0 616.20,179.50Z" fill="#d878c9" fill-opacity="0.72"/>
<path d="M620.60,178.90A3.6,3.6 0 0 1 627.80,178.90Z" fill="#edade5" fill-opacity="0.72"/>
<path d="M620.60,179.50A3.6,3.6 0 0 0 627.80,179.50Z" fill="#edade5" fill-opacity="0.72"/>
<path d="M376.10,190.90A1.7,1.7 0 0 1 379.50,190.90Z" fill="#6dc3e5" fill-opacity="0.72"/>
<path d="M394.20,190.90A6.0,6.0 0 0 1 406.20,190.90Z" fill="#5c89ce" fill-opacity="0.72"/>
<path d="M405.40,190.90A6.0,6.0 0 0 1 417.40,190.90Z" fill="#8397db" fill-opacity="0.72"/>
<path d="M418.70,190.90A3.9,3.9 0 0 1 426.50,190.90Z" fill="#3b258e" fill-opacity="0.72"/>
<path d="M429.10,190.90A4.7,4.7 0 0 1 438.50,190.90Z" fill="#4c85bc" fill-opacity="0.72"/>
<path d="M440.30,190.90A4.7,4.7 0 0 1 449.70,190.90Z" fill="#765abe" fill-opacity="0.72"/>
<path d="M452.80,190.90A3.4,3.4 0 0 1 459.60,190.90Z" fill="#f57b7b" fill-opacity="0.72"/>
<path d="M462.70,190.90A4.7,4.7 0 0 1 472.10,190.90Z" fill="#ca4f4f" fill-opacity="0.72"/>
<path d="M484.00,190.90A5.8,5.8 0 0 1 495.60,190.90Z" fill="#da2d1a" fill-opacity="0.72"/>
<path d="M499.10,190.90A1.9,1.9 0 0 1 502.90,190.90Z" fill="#a22828" fill-opacity="0.72"/>
<path d="M541.90,190.90A3.9,3.9 0 0 1 549.70,190.90Z" fill="#4fbc0c" fill-opacity="0.72"/>
<path d="M551.00,190.90A6.0,6.0 0 0 1 563.00,190.90Z" fill="#3b8e5a" fill-opacity="0.72"/>
<path d="M575.10,190.90A4.3,4.3 0 0 1 583.70,190.90Z" fill="#1f732d" fill-opacity="0.72"/>
<path d="M585.50,190.90A5.1,5.1 0 0 1 595.70,190.90Z" fill="#228c8c" fill-opacity="0.72"/>
<path d="M607.00,190.90A6.0,6.0 0 0 1 619.00,190.90Z" fill="#d878c9" fill-opacity="0.72"/>
<path d="M620.30,190.90A3.9,3.9 0 0 1 628.10,190.90Z" fill="#edade5" fill-opacity="0.72"/>
<path d="M394.50,203.10A5.7,5.7 0 0 1 405.90,203.10Z" fill="#5c89ce" fill-opacity="0.72"/>
<path d="M406.60,203.10A4.8,4.8 0 0 1 416.20,203.10Z" fill="#8397db" fill-opacity="0.72"/>
<path d="M429.20,203.10A4.6,4.6 0 0 1 438.40,203.10Z" fill="#4c85bc" fill-opacity="0.72"/>
<path d="M464.40,203.10A3.0,3.0 0 0 1 470.40,203.10Z" fill="#ca4f4f" fill-opacity="0.72"/>
<path d="M484.70,203.10A5.1,5.1 0 0 1 494.90,203.10Z" fill="#da2d1a" fill-opacity="0.72"/>
<path d="M530.00,203.10A4.6,4.6 0 0 1 539.20,203.10Z" fill="#289138" fill-opacity="0.72"/>
<path d="M550.95,203.10A6.05,6.05 0 0 1 563.05,203.10Z" fill="#3b8e5a" fill-opacity="0.72"/>
<path d="M576.05,203.10A3.35,3.35 0 0 1 582.75,203.10Z" fill="#1f732d" fill-opacity="0.72"/>
<path d="M586.80,203.10A3.8,3.8 0 0 1 594.40,203.10Z" fill="#228c8c" fill-opacity="0.72"/>
<path d="M621.15,203.10A3.05,3.05 0 0 1 627.25,203.10Z" fill="#edade5" fill-opacity="0.72"/>
<path d="M373.95,215.10A3.85,3.85 0 0 1 381.65,215.10Z" fill="#6dc3e5" fill-opacity="0.72"/>
<path d="M395.00,215.70A5.2,5.2 0 0 0 405.40,215.70Z" fill="#5c89ce" fill-opacity="0.72"/>
<path d="M407.00,215.70A4.4,4.4 0 0 0 415.80,215.70Z" fill="#8397db" fill-opacity="0.72"/>
<path d="M419.25,215.70A3.35,3.35 0 0 0 425.95,215.70Z" fill="#3b258e" fill-opacity="0.72"/>
<path d="M430.95,215.10A2.85,2.85 0 0 1 436.65,215.10Z" fill="#4c85bc" fill-opacity="0.72"/>
<path d="M430.95,215.70A2.85,2.85 0 0 0 436.65,215.70Z" fill="#4c85bc" fill-opacity="0.72"/>
<path d="M486.70,215.10A3.1,3.1 0 0 1 492.90,215.10Z" fill="#da2d1a" fill-opacity="0.72"/>
<path d="M486.10,215.70A3.7,3.7 0 0 0 493.50,215.70Z" fill="#da2d1a" fill-opacity="0.72"/>
<path d="M531.50,215.10A3.1,3.1 0 0 1 537.70,215.10Z" fill="#289138" fill-opacity="0.72"/>
<path d="M551.95,215.10A5.05,5.05 0 0 1 562.05,215.10Z" fill="#3b8e5a" fill-opacity="0.72"/>
<path d="M574.55,215.10A4.85,4.85 0 0 1 584.25,215.10Z" fill="#1f732d" fill-opacity="0.72"/>
<path d="M597.90,215.10A3.9,3.9 0 0 1 605.70,215.10Z" fill="#7bd4d4" fill-opacity="0.72"/>
<path d="M609.00,215.10A4.0,4.0 0 0 1 617.00,215.10Z" fill="#d878c9" fill-opacity="0.72"/>
<path d="M373.95,227.20A3.85,3.85 0 0 1 381.65,227.20Z" fill="#6dc3e5" fill-opacity="0.72"/>
<path d="M385.90,227.20A3.1,3.1 0 0 1 392.10,227.20Z" fill="#442897" fill-opacity="0.72"/>
<path d="M394.00,227.20A6.2,6.2 0 0 1 406.40,227.20Z" fill="#5c89ce" fill-opacity="0.72"/>
<path d="M405.35,227.20A6.05,6.05 0 0 1 417.45,227.20Z" fill="#8397db" fill-opacity="0.72"/>
<path d="M419.25,227.20A3.35,3.35 0 0 1 425.95,227.20Z" fill="#3b258e" fill-opacity="0.72"/>
<path d="M428.80,227.20A5.0,5.0 0 0 1 438.80,227.20Z" fill="#4c85bc" fill-opacity="0.72"/>
<path d="M438.80,227.20A6.2,6.2 0 0 1 451.20,227.20Z" fill="#765abe" fill-opacity="0.72"/>
<path d="M451.90,227.20A4.3,4.3 0 0 1 460.50,227.20Z" fill="#f57b7b" fill-opacity="0.72"/>
<path d="M452.80,227.80A3.4,3.4 0 0 0 459.60,227.80Z" fill="#f57b7b" fill-opacity="0.72"/>
<path d="M460.60,227.20A6.8,6.8 0 0 1 474.20,227.20Z" fill="#ca4f4f" fill-opacity="0.72"/>
<path d="M484.50,227.20A5.3,5.3 0 0 1 495.10,227.20Z" fill="#da2d1a" fill-opacity="0.72"/>
<path d="M508.30,227.20A3.9,3.9 0 0 1 516.10,227.20Z" fill="#73972d" fill-opacity="0.72"/>
<path d="M518.60,227.20A4.8,4.8 0 0 1 528.20,227.20Z" fill="#a2cc8e" fill-opacity="0.72"/>
<path d="M531.00,227.80A3.6,3.6 0 0 0 538.20,227.80Z" fill="#289138" fill-opacity="0.72"/>
<path d="M552.65,227.20A4.35,4.35 0 0 1 561.35,227.20Z" fill="#3b8e5a" fill-opacity="0.72"/>
<path d="M554.65,227.80A2.35,2.35 0 0 0 559.35,227.80Z" fill="#3b8e5a" fill-opacity="0.72"/>
<path d="M562.20,227.20A6.0,6.0 0 0 1 574.20,227.20Z" fill="#46c3c3" fill-opacity="0.72"/>
<path d="M576.05,227.20A3.35,3.35 0 0 1 582.75,227.20Z" fill="#1f732d" fill-opacity="0.72"/>
<path d="M587.25,227.20A3.35,3.35 0 0 1 593.95,227.20Z" fill="#228c8c" fill-opacity="0.72"/>
<path d="M598.10,227.20A3.7,3.7 0 0 1 605.50,227.20Z" fill="#7bd4d4" fill-opacity="0.72"/>
<path d="M609.60,227.20A3.4,3.4 0 0 1 616.40,227.20Z" fill="#d878c9" fill-opacity="0.72"/>
<path d="M407.30,239.30A4.1,4.1 0 0 1 415.50,239.30Z" fill="#8397db" fill-opacity="0.72"/>
<path d="M419.25,239.30A3.35,3.35 0 0 1 425.95,239.30Z" fill="#3b258e" fill-opacity="0.72"/>
<path d="M431.45,239.30A2.35,2.35 0 0 1 436.15,239.30Z" fill="#4c85bc" fill-opacity="0.72"/>
<path d="M438.95,239.30A6.05,6.05 0 0 1 451.05,239.30Z" fill="#765abe" fill-opacity="0.72"/>
<path d="M452.15,239.30A4.05,4.05 0 0 1 460.25,239.30Z" fill="#f57b7b" fill-opacity="0.72"/>
<path d="M486.70,239.30A3.1,3.1 0 0 1 492.90,239.30Z" fill="#da2d1a" fill-opacity="0.72"/>
<path d="M498.90,239.30A2.1,2.1 0 0 1 503.10,239.30Z" fill="#a22828" fill-opacity="0.72"/>
<path d="M609.30,239.30A3.7,3.7 0 0 1 616.70,239.30Z" fill="#d878c9" fill-opacity="0.72"/>
<path d="M619.40,239.30A4.8,4.8 0 0 1 629.00,239.30Z" fill="#edade5" fill-opacity="0.72"/>
<path d="M386.90,251.90A2.1,2.1 0 0 0 391.10,251.90Z" fill="#442897" fill-opacity="0.72"/>
<path d="M395.40,251.90A4.8,4.8 0 0 0 405.00,251.90Z" fill="#5c89ce" fill-opacity="0.72"/>
<path d="M419.80,251.90A2.8,2.8 0 0 0 425.40,251.90Z" fill="#3b258e" fill-opacity="0.72"/>
<path d="M439.70,251.90A5.3,5.3 0 0 0 450.30,251.90Z" fill="#765abe" fill-opacity="0.72"/>
<path d="M453.85,251.90A2.35,2.35 0 0 0 458.55,251.90Z" fill="#f57b7b" fill-opacity="0.72"/>
<path d="M554.20,251.90A2.8,2.8 0 0 0 559.80,251.90Z" fill="#3b8e5a" fill-opacity="0.72"/>
<path d="M622.00,251.90A2.2,2.2 0 0 0 626.40,251.90Z" fill="#edade5" fill-opacity="0.72"/>
<path d="M373.10,263.40A4.7,4.7 0 0 1 382.50,263.40Z" fill="#6dc3e5" fill-opacity="0.72"/>
<path d="M384.40,263.40A4.6,4.6 0 0 1 393.60,263.40Z" fill="#442897" fill-opacity="0.72"/>
<path d="M392.50,263.40A7.7,7.7 0 0 1 407.90,263.40Z" fill="#5c89ce" fill-opacity="0.72"/>
<path d="M403.40,263.40A8.0,8.0 0 0 1 419.40,263.40Z" fill="#8397db" fill-opacity="0.72"/>
<path d="M418.20,263.40A4.4,4.4 0 0 1 427.00,263.40Z" fill="#3b258e" fill-opacity="0.72"/>
<path d="M427.80,263.40A6.0,6.0 0 0 1 439.80,263.40Z" fill="#4c85bc" fill-opacity="0.72"/>
<path d="M437.90,263.40A7.1,7.1 0 0 1 452.10,263.40Z" fill="#765abe" fill-opacity="0.72"/>
<path d="M451.20,263.40A5.0,5.0 0 0 1 461.20,263.40Z" fill="#f57b7b" fill-opacity="0.72"/>
<path d="M461.00,263.40A6.4,6.4 0 0 1 473.80,263.40Z" fill="#ca4f4f" fill-opacity="0.72"/>
<path d="M482.90,263.40A6.9,6.9 0 0 1 496.70,263.40Z" fill="#da2d1a" fill-opacity="0.72"/>
<path d="M507.00,263.40A5.2,5.2 0 0 1 517.40,263.40Z" fill="#73972d" fill-opacity="0.72"/>
<path d="M519.60,263.40A3.8,3.8 0 0 1 527.20,263.40Z" fill="#a2cc8e" fill-opacity="0.72"/>
<path d="M531.90,263.40A2.7,2.7 0 0 1 537.30,263.40Z" fill="#289138" fill-opacity="0.72"/>
<path d="M541.75,263.40A4.05,4.05 0 0 1 549.85,263.40Z" fill="#4fbc0c" fill-opacity="0.72"/>
<path d="M551.95,263.40A5.05,5.05 0 0 1 562.05,263.40Z" fill="#3b8e5a" fill-opacity="0.72"/>
<path d="M575.85,263.40A3.55,3.55 0 0 1 582.95,263.40Z" fill="#1f732d" fill-opacity="0.72"/>
<path d="M584.90,263.40A5.7,5.7 0 0 1 596.30,263.40Z" fill="#228c8c" fill-opacity="0.72"/>
<path d="M606.45,263.40A6.55,6.55 0 0 1 619.55,263.40Z" fill="#d878c9" fill-opacity="0.72"/>
<path d="M619.70,263.40A4.5,4.5 0 0 1 628.70,263.40Z" fill="#edade5" fill-opacity="0.72"/>
<path d="M374.90,276.00A2.9,2.9 0 0 1 380.70,276.00Z" fill="#6dc3e5" fill-opacity="0.72"/>
<path d="M396.10,276.00A4.1,4.1 0 0 1 404.30,276.00Z" fill="#5c89ce" fill-opacity="0.72"/>
<path d="M397.20,276.60A3.0,3.0 0 0 0 403.20,276.60Z" fill="#5c89ce" fill-opacity="0.72"/>
<path d="M405.80,276.00A5.6,5.6 0 0 1 417.00,276.00Z" fill="#8397db" fill-opacity="0.72"/>
<path d="M428.60,276.00A5.2,5.2 0 0 1 439.00,276.00Z" fill="#4c85bc" fill-opacity="0.72"/>
<path d="M461.80,276.00A5.6,5.6 0 0 1 473.00,276.00Z" fill="#ca4f4f" fill-opacity="0.72"/>
<path d="M465.05,276.60A2.35,2.35 0 0 0 469.75,276.60Z" fill="#ca4f4f" fill-opacity="0.72"/>
<path d="M485.30,276.00A4.5,4.5 0 0 1 494.30,276.00Z" fill="#da2d1a" fill-opacity="0.72"/>
<path d="M507.20,276.00A5.0,5.0 0 0 1 517.20,276.00Z" fill="#73972d" fill-opacity="0.72"/>
<path d="M531.25,276.60A3.35,3.35 0 0 0 537.95,276.60Z" fill="#289138" fill-opacity="0.72"/>
<path d="M553.00,276.00A4.0,4.0 0 0 1 561.00,276.00Z" fill="#3b8e5a" fill-opacity="0.72"/>
<path d="M553.40,276.60A3.6,3.6 0 0 0 560.60,276.60Z" fill="#3b8e5a" fill-opacity="0.72"/>
<path d="M597.90,276.00A3.9,3.9 0 0 1 605.70,276.00Z" fill="#7bd4d4" fill-opacity="0.72"/>
<path d="M609.00,276.00A4.0,4.0 0 0 1 617.00,276.00Z" fill="#d878c9" fill-opacity="0.72"/>
<path d="M396.10,288.10A4.1,4.1 0 0 1 404.30,288.10Z" fill="#5c89ce" fill-opacity="0.72"/>
<path d="M406.60,288.10A4.8,4.8 0 0 1 416.20,288.10Z" fill="#8397db" fill-opacity="0.72"/>
<path d="M419.20,288.10A3.4,3.4 0 0 1 426.00,288.10Z" fill="#3b258e" fill-opacity="0.72"/>
<path d="M429.20,288.10A4.6,4.6 0 0 1 438.40,288.10Z" fill="#4c85bc" fill-opacity="0.72"/>
<path d="M460.10,288.10A7.3,7.3 0 0 1 474.70,288.10Z" fill="#ca4f4f" fill-opacity="0.72"/>
<path d="M485.70,288.10A4.1,4.1 0 0 1 493.90,288.10Z" fill="#da2d1a" fill-opacity="0.72"/>
<path d="M553.20,288.10A3.8,3.8 0 0 1 560.80,288.10Z" fill="#3b8e5a" fill-opacity="0.72"/>
<path d="M575.40,288.10A4.0,4.0 0 0 1 583.40,288.10Z" fill="#1f732d" fill-opacity="0.72"/>
<path d="M587.40,288.10A3.2,3.2 0 0 1 593.80,288.10Z" fill="#228c8c" fill-opacity="0.72"/>
<path d="M609.00,288.10A4.0,4.0 0 0 1 617.00,288.10Z" fill="#d878c9" fill-opacity="0.72"/>
<path d="M620.40,288.10A3.8,3.8 0 0 1 628.00,288.10Z" fill="#edade5" fill-opacity="0.72"/>
<path d="M396.65,300.90A3.55,3.55 0 0 0 403.75,300.90Z" fill="#5c89ce" fill-opacity="0.72"/>
<path d="M419.75,300.90A2.85,2.85 0 0 0 425.45,300.90Z" fill="#3b258e" fill-opacity="0.72"/>
<path d="M430.80,300.90A3.0,3.0 0 0 0 436.80,300.90Z" fill="#4c85bc" fill-opacity="0.72"/>
<path d="M551.30,300.30A5.7,5.7 0 0 1 562.70,300.30Z" fill="#3b8e5a" fill-opacity="0.72"/>
<path d="M576.30,300.30A3.1,3.1 0 0 1 582.50,300.30Z" fill="#1f732d" fill-opacity="0.72"/>
<path d="M576.30,300.90A3.1,3.1 0 0 0 582.50,300.90Z" fill="#1f732d" fill-opacity="0.72"/>
<path d="M587.60,300.90A3.0,3.0 0 0 0 593.60,300.90Z" fill="#228c8c" fill-opacity="0.72"/>
<path d="M385.95,313.10A3.05,3.05 0 0 0 392.05,313.10Z" fill="#442897" fill-opacity="0.72"/>
<path d="M394.65,313.10A5.55,5.55 0 0 0 405.75,313.10Z" fill="#5c89ce" fill-opacity="0.72"/>
<path d="M408.40,312.50A3.0,3.0 0 0 1 414.40,312.50Z" fill="#8397db" fill-opacity="0.72"/>
<path d="M405.90,313.10A5.5,5.5 0 0 0 416.90,313.10Z" fill="#8397db" fill-opacity="0.72"/>
<path d="M431.70,313.10A2.1,2.1 0 0 0 435.90,313.10Z" fill="#4c85bc" fill-opacity="0.72"/>
<path d="M438.75,313.10A6.25,6.25 0 0 0 451.25,313.10Z" fill="#765abe" fill-opacity="0.72"/>
<path d="M453.20,313.10A3.0,3.0 0 0 0 459.20,313.10Z" fill="#f57b7b" fill-opacity="0.72"/>
<path d="M463.60,313.10A3.8,3.8 0 0 0 471.20,313.10Z" fill="#ca4f4f" fill-opacity="0.72"/>
<path d="M486.70,312.50A3.1,3.1 0 0 1 492.90,312.50Z" fill="#da2d1a" fill-opacity="0.72"/>
<path d="M485.75,313.10A4.05,4.05 0 0 0 493.85,313.10Z" fill="#da2d1a" fill-opacity="0.72"/>
<path d="M543.50,313.10A2.3,2.3 0 0 0 548.10,313.10Z" fill="#4fbc0c" fill-opacity="0.72"/>
<path d="M575.40,313.10A4.0,4.0 0 0 0 583.40,313.10Z" fill="#1f732d" fill-opacity="0.72"/>
<path d="M608.00,313.10A5.0,5.0 0 0 0 618.00,313.10Z" fill="#d878c9" fill-opacity="0.72"/>
<path d="M374.95,324.10A2.85,2.85 0 0 1 380.65,324.10Z" fill="#6dc3e5" fill-opacity="0.72"/>
<path d="M375.70,324.70A2.1,2.1 0 0 0 379.90,324.70Z" fill="#6dc3e5" fill-opacity="0.72"/>
<path d="M396.30,324.10A3.9,3.9 0 0 1 404.10,324.10Z" fill="#5c89ce" fill-opacity="0.72"/>
<path d="M396.30,324.70A3.9,3.9 0 0 0 404.10,324.70Z" fill="#5c89ce" fill-opacity="0.72"/>
<path d="M408.80,324.10A2.6,2.6 0 0 1 414.00,324.10Z" fill="#8397db" fill-opacity="0.72"/>
<path d="M408.00,324.70A3.4,3.4 0 0 0 414.80,324.70Z" fill="#8397db" fill-opacity="0.72"/>
<path d="M420.10,324.70A2.5,2.5 0 0 0 425.10,324.70Z" fill="#3b258e" fill-opacity="0.72"/>
<path d="M429.50,324.10A4.3,4.3 0 0 1 438.10,324.10Z" fill="#4c85bc" fill-opacity="0.72"/>
<path d="M429.50,324.70A4.3,4.3 0 0 0 438.10,324.70Z" fill="#4c85bc" fill-opacity="0.72"/>
<path d="M454.10,324.10A2.1,2.1 0 0 1 458.30,324.10Z" fill="#f57b7b" fill-opacity="0.72"/>
<path d="M454.10,324.70A2.1,2.1 0 0 0 458.30,324.70Z" fill="#f57b7b" fill-opacity="0.72"/>
<path d="M464.05,324.10A3.35,3.35 0 0 1 470.75,324.10Z" fill="#ca4f4f" fill-opacity="0.72"/>
<path d="M464.05,324.70A3.35,3.35 0 0 0 470.75,324.70Z" fill="#ca4f4f" fill-opacity="0.72"/>
<path d="M484.70,324.10A5.1,5.1 0 0 1 494.90,324.10Z" fill="#da2d1a" fill-opacity="0.72"/>
<path d="M487.80,324.70A2.0,2.0 0 0 0 491.80,324.70Z" fill="#da2d1a" fill-opacity="0.72"/>
<path d="M497.45,324.10A3.55,3.55 0 0 1 504.55,324.10Z" fill="#a22828" fill-opacity="0.72"/>
<path d="M498.90,324.70A2.1,2.1 0 0 0 503.10,324.70Z" fill="#a22828" fill-opacity="0.72"/>
<path d="M509.00,324.10A3.2,3.2 0 0 1 515.40,324.10Z" fill="#73972d" fill-opacity="0.72"/>
<path d="M518.80,324.10A4.6,4.6 0 0 1 528.00,324.10Z" fill="#a2cc8e" fill-opacity="0.72"/>
<path d="M531.75,324.10A2.85,2.85 0 0 1 537.45,324.10Z" fill="#289138" fill-opacity="0.72"/>
<path d="M531.75,324.70A2.85,2.85 0 0 0 537.45,324.70Z" fill="#289138" fill-opacity="0.72"/>
<path d="M554.15,324.10A2.85,2.85 0 0 1 559.85,324.10Z" fill="#3b8e5a" fill-opacity="0.72"/>
<path d="M588.25,324.70A2.35,2.35 0 0 0 592.95,324.70Z" fill="#228c8c" fill-opacity="0.72"/>
<path d="M608.70,324.10A4.3,4.3 0 0 1 617.30,324.10Z" fill="#d878c9" fill-opacity="0.72"/>
<path d="M608.00,324.70A5.0,5.0 0 0 0 618.00,324.70Z" fill="#d878c9" fill-opacity="0.72"/>
<path d="M620.90,324.10A3.3,3.3 0 0 1 627.50,324.10Z" fill="#edade5" fill-opacity="0.72"/>
<path d="M620.65,324.70A3.55,3.55 0 0 0 627.75,324.70Z" fill="#edade5" fill-opacity="0.72"/>
<path d="M373.10,336.00A4.7,4.7 0 0 1 382.50,336.00Z" fill="#6dc3e5" fill-opacity="0.72"/>
<path d="M394.00,336.00A6.2,6.2 0 0 1 406.40,336.00Z" fill="#5c89ce" fill-opacity="0.72"/>
<path d="M396.30,336.60A3.9,3.9 0 0 0 404.10,336.60Z" fill="#5c89ce" fill-opacity="0.72"/>
<path d="M407.60,336.00A3.8,3.8 0 0 1 415.20,336.00Z" fill="#8397db" fill-opacity="0.72"/>
<path d="M420.80,336.60A1.8,1.8 0 0 0 424.40,336.60Z" fill="#3b258e" fill-opacity="0.72"/>
<path d="M428.30,336.00A5.5,5.5 0 0 1 439.30,336.00Z" fill="#4c85bc" fill-opacity="0.72"/>
<path d="M452.20,336.00A4.0,4.0 0 0 1 460.20,336.00Z" fill="#f57b7b" fill-opacity="0.72"/>
<path d="M454.10,336.60A2.1,2.1 0 0 0 458.30,336.60Z" fill="#f57b7b" fill-opacity="0.72"/>
<path d="M462.20,336.00A5.2,5.2 0 0 1 472.60,336.00Z" fill="#ca4f4f" fill-opacity="0.72"/>
<path d="M464.70,336.60A2.7,2.7 0 0 0 470.10,336.60Z" fill="#ca4f4f" fill-opacity="0.72"/>
<path d="M484.70,336.00A5.1,5.1 0 0 1 494.90,336.00Z" fill="#da2d1a" fill-opacity="0.72"/>
<path d="M485.75,336.60A4.05,4.05 0 0 0 493.85,336.60Z" fill="#da2d1a" fill-opacity="0.72"/>
<path d="M496.40,336.00A4.6,4.6 0 0 1 505.60,336.00Z" fill="#a22828" fill-opacity="0.72"/>
<path d="M507.20,336.00A5.0,5.0 0 0 1 517.20,336.00Z" fill="#73972d" fill-opacity="0.72"/>
<path d="M521.30,336.60A2.1,2.1 0 0 0 525.50,336.60Z" fill="#a2cc8e" fill-opacity="0.72"/>
<path d="M531.75,336.00A2.85,2.85 0 0 1 537.45,336.00Z" fill="#289138" fill-opacity="0.72"/>
<path d="M531.75,336.60A2.85,2.85 0 0 0 537.45,336.60Z" fill="#289138" fill-opacity="0.72"/>
<path d="M543.95,336.00A1.85,1.85 0 0 1 547.65,336.00Z" fill="#4fbc0c" fill-opacity="0.72"/>
<path d="M553.95,336.00A3.05,3.05 0 0 1 560.05,336.00Z" fill="#3b8e5a" fill-opacity="0.72"/>
<path d="M554.50,336.60A2.5,2.5 0 0 0 559.50,336.60Z" fill="#3b8e5a" fill-opacity="0.72"/>
<path d="M575.85,336.00A3.55,3.55 0 0 1 582.95,336.00Z" fill="#1f732d" fill-opacity="0.72"/>
<path d="M586.80,336.00A3.8,3.8 0 0 1 594.40,336.00Z" fill="#228c8c" fill-opacity="0.72"/>
<path d="M586.80,336.60A3.8,3.8 0 0 0 594.40,336.60Z" fill="#228c8c" fill-opacity="0.72"/>
<path d="M599.15,336.00A2.65,2.65 0 0 1 604.45,336.00Z" fill="#7bd4d4" fill-opacity="0.72"/>
<path d="M607.30,336.00A5.7,5.7 0 0 1 618.70,336.00Z" fill="#d878c9" fill-opacity="0.72"/>
<path d="M608.95,336.60A4.05,4.05 0 0 0 617.05,336.60Z" fill="#d878c9" fill-opacity="0.72"/>
<path d="M619.10,336.00A5.1,5.1 0 0 1 629.30,336.00Z" fill="#edade5" fill-opacity="0.72"/>
<path d="M374.95,348.40A2.85,2.85 0 0 1 380.65,348.40Z" fill="#6dc3e5" fill-opacity="0.72"/>
<path d="M397.70,348.40A2.5,2.5 0 0 1 402.70,348.40Z" fill="#5c89ce" fill-opacity="0.72"/>
<path d="M396.30,349.00A3.9,3.9 0 0 0 404.10,349.00Z" fill="#5c89ce" fill-opacity="0.72"/>
<path d="M407.40,348.40A4.0,4.0 0 0 1 415.40,348.40Z" fill="#8397db" fill-opacity="0.72"/>
<path d="M419.90,348.40A2.7,2.7 0 0 1 425.30,348.40Z" fill="#3b258e" fill-opacity="0.72"/>
<path d="M431.30,348.40A2.5,2.5 0 0 1 436.30,348.40Z" fill="#4c85bc" fill-opacity="0.72"/>
<path d="M462.85,348.40A4.55,4.55 0 0 1 471.95,348.40Z" fill="#ca4f4f" fill-opacity="0.72"/>
<path d="M463.30,349.00A4.1,4.1 0 0 0 471.50,349.00Z" fill="#ca4f4f" fill-opacity="0.72"/>
<path d="M485.30,348.40A4.5,4.5 0 0 1 494.30,348.40Z" fill="#da2d1a" fill-opacity="0.72"/>
<path d="M485.75,349.00A4.05,4.05 0 0 0 493.85,349.00Z" fill="#da2d1a" fill-opacity="0.72"/>
<path d="M554.90,348.40A2.1,2.1 0 0 1 559.10,348.40Z" fill="#3b8e5a" fill-opacity="0.72"/>
<path d="M566.30,348.40A1.9,1.9 0 0 1 570.10,348.40Z" fill="#46c3c3" fill-opacity="0.72"/>
<path d="M587.25,348.40A3.35,3.35 0 0 1 593.95,348.40Z" fill="#228c8c" fill-opacity="0.72"/>
<path d="M587.90,349.00A2.7,2.7 0 0 0 593.30,349.00Z" fill="#228c8c" fill-opacity="0.72"/>
<path d="M620.65,349.00A3.55,3.55 0 0 0 627.75,349.00Z" fill="#edade5" fill-opacity="0.72"/>
<path d="M375.80,360.40A2.0,2.0 0 0 1 379.80,360.40Z" fill="#6dc3e5" fill-opacity="0.72"/>
<path d="M395.60,360.40A4.6,4.6 0 0 1 404.80,360.40Z" fill="#5c89ce" fill-opacity="0.72"/>
<path d="M408.70,360.40A2.7,2.7 0 0 1 414.10,360.40Z" fill="#8397db" fill-opacity="0.72"/>
<path d="M409.30,361.00A2.1,2.1 0 0 0 413.50,361.00Z" fill="#8397db" fill-opacity="0.72"/>
<path d="M430.95,360.40A2.85,2.85 0 0 1 436.65,360.40Z" fill="#4c85bc" fill-opacity="0.72"/>
<path d="M441.80,361.00A3.2,3.2 0 0 0 448.20,361.00Z" fill="#765abe" fill-opacity="0.72"/>
<path d="M463.60,360.40A3.8,3.8 0 0 1 471.20,360.40Z" fill="#ca4f4f" fill-opacity="0.72"/>
<path d="M483.25,360.40A6.55,6.55 0 0 1 496.35,360.40Z" fill="#da2d1a" fill-opacity="0.72"/>
<path d="M497.70,360.40A3.3,3.3 0 0 1 504.30,360.40Z" fill="#a22828" fill-opacity="0.72"/>
<path d="M509.60,360.40A2.6,2.6 0 0 1 514.80,360.40Z" fill="#73972d" fill-opacity="0.72"/>
<path d="M518.20,360.40A5.2,5.2 0 0 1 528.60,360.40Z" fill="#a2cc8e" fill-opacity="0.72"/>
<path d="M575.40,361.00A4.0,4.0 0 0 0 583.40,361.00Z" fill="#1f732d" fill-opacity="0.72"/>
<path d="M621.15,360.40A3.05,3.05 0 0 1 627.25,360.40Z" fill="#edade5" fill-opacity="0.72"/>
<path d="M386.70,372.50A2.3,2.3 0 0 0 391.30,372.50Z" fill="#442897" fill-opacity="0.72"/>
<path d="M397.85,371.90A2.35,2.35 0 0 1 402.55,371.90Z" fill="#5c89ce" fill-opacity="0.72"/>
<path d="M394.90,372.50A5.3,5.3 0 0 0 405.50,372.50Z" fill="#5c89ce" fill-opacity="0.72"/>
<path d="M408.40,372.50A3.0,3.0 0 0 0 414.40,372.50Z" fill="#8397db" fill-opacity="0.72"/>
<path d="M429.90,372.50A3.9,3.9 0 0 0 437.70,372.50Z" fill="#4c85bc" fill-opacity="0.72"/>
<path d="M442.50,372.50A2.5,2.5 0 0 0 447.50,372.50Z" fill="#765abe" fill-opacity="0.72"/>
<path d="M452.20,371.90A4.0,4.0 0 0 1 460.20,371.90Z" fill="#f57b7b" fill-opacity="0.72"/>
<path d="M462.60,372.50A4.8,4.8 0 0 0 472.20,372.50Z" fill="#ca4f4f" fill-opacity="0.72"/>
<path d="M486.70,371.90A3.1,3.1 0 0 1 492.90,371.90Z" fill="#da2d1a" fill-opacity="0.72"/>
<path d="M486.70,372.50A3.1,3.1 0 0 0 492.90,372.50Z" fill="#da2d1a" fill-opacity="0.72"/>
<path d="M498.15,371.90A2.85,2.85 0 0 1 503.85,371.90Z" fill="#a22828" fill-opacity="0.72"/>
<path d="M553.45,372.50A3.55,3.55 0 0 0 560.55,372.50Z" fill="#3b8e5a" fill-opacity="0.72"/>
<path d="M574.20,372.50A5.2,5.2 0 0 0 584.60,372.50Z" fill="#1f732d" fill-opacity="0.72"/>
<path d="M588.25,372.50A2.35,2.35 0 0 0 592.95,372.50Z" fill="#228c8c" fill-opacity="0.72"/>
<path d="M599.15,372.50A2.65,2.65 0 0 0 604.45,372.50Z" fill="#7bd4d4" fill-opacity="0.72"/>
<path d="M609.45,372.50A3.55,3.55 0 0 0 616.55,372.50Z" fill="#d878c9" fill-opacity="0.72"/>
<path d="M374.95,384.00A2.85,2.85 0 0 1 380.65,384.00Z" fill="#6dc3e5" fill-opacity="0.72"/>
<path d="M384.50,384.00A4.5,4.5 0 0 1 393.50,384.00Z" fill="#442897" fill-opacity="0.72"/>
<path d="M394.00,384.00A6.2,6.2 0 0 1 406.40,384.00Z" fill="#5c89ce" fill-opacity="0.72"/>
<path d="M397.85,384.60A2.35,2.35 0 0 0 402.55,384.60Z" fill="#5c89ce" fill-opacity="0.72"/>
<path d="M405.35,384.00A6.05,6.05 0 0 1 417.45,384.00Z" fill="#8397db" fill-opacity="0.72"/>
<path d="M418.50,384.00A4.1,4.1 0 0 1 426.70,384.00Z" fill="#3b258e" fill-opacity="0.72"/>
<path d="M428.45,384.00A5.35,5.35 0 0 1 439.15,384.00Z" fill="#4c85bc" fill-opacity="0.72"/>
<path d="M439.90,384.00A5.1,5.1 0 0 1 450.10,384.00Z" fill="#765abe" fill-opacity="0.72"/>
<path d="M453.80,384.60A2.4,2.4 0 0 0 458.60,384.60Z" fill="#f57b7b" fill-opacity="0.72"/>
<path d="M461.55,384.00A5.85,5.85 0 0 1 473.25,384.00Z" fill="#ca4f4f" fill-opacity="0.72"/>
<path d="M486.70,384.00A3.1,3.1 0 0 1 492.90,384.00Z" fill="#da2d1a" fill-opacity="0.72"/>
<path d="M486.70,384.60A3.1,3.1 0 0 0 492.90,384.60Z" fill="#da2d1a" fill-opacity="0.72"/>
<path d="M508.15,384.00A4.05,4.05 0 0 1 516.25,384.00Z" fill="#73972d" fill-opacity="0.72"/>
<path d="M530.80,384.00A3.8,3.8 0 0 1 538.40,384.00Z" fill="#289138" fill-opacity="0.72"/>
<path d="M551.80,384.00A5.2,5.2 0 0 1 562.20,384.00Z" fill="#3b8e5a" fill-opacity="0.72"/>
<path d="M564.10,384.00A4.1,4.1 0 0 1 572.30,384.00Z" fill="#46c3c3" fill-opacity="0.72"/>
<path d="M573.00,384.00A6.4,6.4 0 0 1 585.80,384.00Z" fill="#1f732d" fill-opacity="0.72"/>
<path d="M585.40,384.00A5.2,5.2 0 0 1 595.80,384.00Z" fill="#228c8c" fill-opacity="0.72"/>
<path d="M596.80,384.00A5.0,5.0 0 0 1 606.80,384.00Z" fill="#7bd4d4" fill-opacity="0.72"/>
<path d="M606.60,384.00A6.4,6.4 0 0 1 619.40,384.00Z" fill="#d878c9" fill-opacity="0.72"/>
<path d="M621.60,384.00A2.6,2.6 0 0 1 626.80,384.00Z" fill="#edade5" fill-opacity="0.72"/>
<path d="M396.20,396.70A4.0,4.0 0 0 0 404.20,396.70Z" fill="#5c89ce" fill-opacity="0.72"/>
<path d="M409.05,396.10A2.35,2.35 0 0 1 413.75,396.10Z" fill="#8397db" fill-opacity="0.72"/>
<path d="M409.05,396.70A2.35,2.35 0 0 0 413.75,396.70Z" fill="#8397db" fill-opacity="0.72"/>
<path d="M430.70,396.70A3.1,3.1 0 0 0 436.90,396.70Z" fill="#4c85bc" fill-opacity="0.72"/>
<path d="M451.00,396.10A5.2,5.2 0 0 1 461.40,396.10Z" fill="#f57b7b" fill-opacity="0.72"/>
<path d="M453.70,396.70A2.5,2.5 0 0 0 458.70,396.70Z" fill="#f57b7b" fill-opacity="0.72"/>
<path d="M486.30,396.70A3.5,3.5 0 0 0 493.30,396.70Z" fill="#da2d1a" fill-opacity="0.72"/>
<path d="M553.65,396.10A3.35,3.35 0 0 1 560.35,396.10Z" fill="#3b8e5a" fill-opacity="0.72"/>
<path d="M588.05,396.70A2.55,2.55 0 0 0 593.15,396.70Z" fill="#228c8c" fill-opacity="0.72"/>
<path d="M607.80,396.10A5.2,5.2 0 0 1 618.20,396.10Z" fill="#d878c9" fill-opacity="0.72"/>
<path d="M373.90,415.40A3.9,3.9 0 0 1 381.70,415.40Z" fill="#6dc3e5" fill-opacity="0.72"/>
<path d="M394.20,415.40A6.0,6.0 0 0 1 406.20,415.40Z" fill="#5c89ce" fill-opacity="0.72"/>
<path d="M405.20,415.40A6.2,6.2 0 0 1 417.60,415.40Z" fill="#8397db" fill-opacity="0.72"/>
<path d="M419.40,415.40A3.2,3.2 0 0 1 425.80,415.40Z" fill="#3b258e" fill-opacity="0.72"/>
<path d="M429.20,415.40A4.6,4.6 0 0 1 438.40,415.40Z" fill="#4c85bc" fill-opacity="0.72"/>
<path d="M431.10,416.00A2.7,2.7 0 0 0 436.50,416.00Z" fill="#4c85bc" fill-opacity="0.72"/>
<path d="M451.20,415.40A5.0,5.0 0 0 1 461.20,415.40Z" fill="#f57b7b" fill-opacity="0.72"/>
<path d="M461.70,415.40A5.7,5.7 0 0 1 473.10,415.40Z" fill="#ca4f4f" fill-opacity="0.72"/>
<path d="M486.90,415.40A2.9,2.9 0 0 1 492.70,415.40Z" fill="#da2d1a" fill-opacity="0.72"/>
<path d="M487.30,416.00A2.5,2.5 0 0 0 492.30,416.00Z" fill="#da2d1a" fill-opacity="0.72"/>
<path d="M498.50,415.40A2.5,2.5 0 0 1 503.50,415.40Z" fill="#a22828" fill-opacity="0.72"/>
<path d="M509.25,415.40A2.95,2.95 0 0 1 515.15,415.40Z" fill="#73972d" fill-opacity="0.72"/>
<path d="M551.75,415.40A5.25,5.25 0 0 1 562.25,415.40Z" fill="#3b8e5a" fill-opacity="0.72"/>
<path d="M573.50,415.40A5.9,5.9 0 0 1 585.30,415.40Z" fill="#1f732d" fill-opacity="0.72"/>
<path d="M586.60,415.40A4.0,4.0 0 0 1 594.60,415.40Z" fill="#228c8c" fill-opacity="0.72"/>
<path d="M596.80,415.40A5.0,5.0 0 0 1 606.80,415.40Z" fill="#7bd4d4" fill-opacity="0.72"/>
<path d="M607.30,415.40A5.7,5.7 0 0 1 618.70,415.40Z" fill="#d878c9" fill-opacity="0.72"/>
<text x="653.20" y="121.00" font-size="9.6" text-anchor="end" font-weight="bold" textLength="20.30" lengthAdjust="spacingAndGlyphs" fill="#231f20">37,567</text>
<text x="653.20" y="133.00" font-size="9.6" text-anchor="end" font-weight="bold" textLength="20.30" lengthAdjust="spacingAndGlyphs" fill="#231f20">29,900</text>
<text x="653.20" y="145.00" font-size="9.6" text-anchor="end" font-weight="bold" textLength="20.30" lengthAdjust="spacingAndGlyphs" fill="#231f20">33,431</text>
<text x="653.20" y="157.10" font-size="9.6" text-anchor="end" font-weight="bold" textLength="20.30" lengthAdjust="spacingAndGlyphs" fill="#231f20">34,271</text>
<text x="653.50" y="154.90" font-size="7.5" text-anchor="start" font-weight="bold" fill="#231f20">*</text>
<text x="653.20" y="169.20" font-size="9.6" text-anchor="end" font-weight="bold" textLength="20.30" lengthAdjust="spacingAndGlyphs" fill="#231f20">33,340</text>
<text x="653.20" y="181.30" font-size="9.6" text-anchor="end" font-weight="bold" textLength="20.30" lengthAdjust="spacingAndGlyphs" fill="#231f20">28,185</text>
<text x="653.20" y="205.50" font-size="9.6" text-anchor="end" font-weight="bold" textLength="16.60" lengthAdjust="spacingAndGlyphs" fill="#231f20">9,791</text>
<text x="653.20" y="217.50" font-size="9.6" text-anchor="end" font-weight="bold" textLength="16.60" lengthAdjust="spacingAndGlyphs" fill="#231f20">9,629</text>
<text x="653.20" y="229.60" font-size="9.6" text-anchor="end" font-weight="bold" textLength="20.30" lengthAdjust="spacingAndGlyphs" fill="#231f20">16,709</text>
<text x="653.20" y="241.70" font-size="9.6" text-anchor="end" font-weight="bold" textLength="16.60" lengthAdjust="spacingAndGlyphs" fill="#231f20">9,895</text>
<text x="653.20" y="253.70" font-size="9.6" text-anchor="end" font-weight="bold" textLength="16.60" lengthAdjust="spacingAndGlyphs" fill="#231f20">7,651</text>
<text x="653.20" y="265.80" font-size="9.6" text-anchor="end" font-weight="bold" textLength="20.30" lengthAdjust="spacingAndGlyphs" fill="#231f20">24,969</text>
<text x="653.20" y="278.40" font-size="9.6" text-anchor="end" font-weight="bold" textLength="20.30" lengthAdjust="spacingAndGlyphs" fill="#231f20">10,806</text>
<text x="653.20" y="290.50" font-size="9.6" text-anchor="end" font-weight="bold" textLength="16.60" lengthAdjust="spacingAndGlyphs" fill="#231f20">9,898</text>
<text x="653.20" y="302.70" font-size="9.6" text-anchor="end" font-weight="bold" textLength="16.60" lengthAdjust="spacingAndGlyphs" fill="#231f20">7,174</text>
<text x="653.20" y="326.50" font-size="9.6" text-anchor="end" font-weight="bold" textLength="20.30" lengthAdjust="spacingAndGlyphs" fill="#231f20">11,673</text>
<text x="653.20" y="338.40" font-size="9.6" text-anchor="end" font-weight="bold" textLength="20.30" lengthAdjust="spacingAndGlyphs" fill="#231f20">26,185</text>
<text x="653.20" y="350.80" font-size="9.6" text-anchor="end" font-weight="bold" textLength="20.30" lengthAdjust="spacingAndGlyphs" fill="#231f20">12,178</text>
<text x="653.20" y="374.30" font-size="9.6" text-anchor="end" font-weight="bold" textLength="20.30" lengthAdjust="spacingAndGlyphs" fill="#231f20">10,691</text>
<text x="653.20" y="386.40" font-size="9.6" text-anchor="end" font-weight="bold" textLength="20.30" lengthAdjust="spacingAndGlyphs" fill="#231f20">11,501</text>
<text x="653.20" y="398.50" font-size="9.6" text-anchor="end" font-weight="bold" textLength="20.30" lengthAdjust="spacingAndGlyphs" fill="#231f20">10,641</text>
<text x="671.30" y="261.00" font-size="7" font-weight="bold" textLength="30.00" lengthAdjust="spacingAndGlyphs" fill="#231f20" transform="rotate(-90 671.30 261.00)">contractions</text>
<path d="M668.0,261.9 v5.0 a2.5,2.5 0 0 0 0,-5.0 Z" fill="#9a9a9a"/>
<text x="670.20" y="300.80" font-size="7" font-weight="bold" textLength="28.30" lengthAdjust="spacingAndGlyphs" fill="#231f20" transform="rotate(-90 670.20 300.80)">expansions</text>
<path d="M668.6,302.0 v5.4 a2.7,2.7 0 0 1 0,-5.4 Z" fill="#9a9a9a"/>
<text x="670.40" y="373.00" font-size="7" font-weight="bold" textLength="52.50" lengthAdjust="spacingAndGlyphs" fill="#231f20" transform="rotate(-90 670.40 373.00)">100 fast-evolving genes</text>
<circle cx="669.2" cy="380.3" r="6.5" fill="#9a9a9a"/>
<text x="670.90" y="396.00" font-size="7" font-weight="bold" textLength="6.00" lengthAdjust="spacingAndGlyphs" fill="#231f20" transform="rotate(-90 670.90 396.00)">10</text>
<circle cx="669.1" cy="400.4" r="3.3" fill="#9a9a9a"/>
<text x="671.00" y="413.80" font-size="7" font-weight="bold" textLength="2.20" lengthAdjust="spacingAndGlyphs" fill="#231f20" transform="rotate(-90 671.00 413.80)">1</text>
<circle cx="669.0" cy="416.1" r="0.7" fill="#9a9a9a"/>
<text x="290.00" y="112.60" font-size="9.3" text-anchor="start" font-weight="bold" textLength="21.60" lengthAdjust="spacingAndGlyphs" fill="#231f20">200My</text>
<line x1="290" y1="114.5" x2="300" y2="114.5" stroke="#3a3232" stroke-width="1.2"/>
<circle cx="53.75" cy="188.10" r="1.25" fill="#40b0f0" fill-opacity="0.85"/>
<circle cx="53.75" cy="187.02" r="1.25" fill="#40b0f0" fill-opacity="0.85"/>
<circle cx="53.75" cy="185.93" r="1.25" fill="#40b0f0" fill-opacity="0.85"/>
<circle cx="72.75" cy="188.10" r="1.25" fill="#e03030" fill-opacity="0.85"/>
<circle cx="82.25" cy="183.76" r="1.25" fill="#e03030" fill-opacity="0.85"/>
<circle cx="82.25" cy="187.56" r="1.25" fill="#5080e0" fill-opacity="0.85"/>
<circle cx="87.00" cy="180.51" r="1.25" fill="#5080e0" fill-opacity="0.85"/>
<circle cx="87.00" cy="187.56" r="1.25" fill="#5080e0" fill-opacity="0.85"/>
<circle cx="91.75" cy="187.56" r="1.25" fill="#d888e0" fill-opacity="0.85"/>
<circle cx="96.50" cy="188.10" r="1.25" fill="#5080e0" fill-opacity="0.85"/>
<circle cx="96.50" cy="187.02" r="1.25" fill="#5080e0" fill-opacity="0.85"/>
<circle cx="96.50" cy="185.93" r="1.25" fill="#308888" fill-opacity="0.85"/>
<circle cx="101.25" cy="179.97" r="1.25" fill="#306a30" fill-opacity="0.85"/>
<circle cx="101.25" cy="181.60" r="1.25" fill="#306a30" fill-opacity="0.85"/>
<circle cx="101.25" cy="183.22" r="1.25" fill="#e03030" fill-opacity="0.85"/>
<circle cx="101.25" cy="184.85" r="1.25" fill="#e03030" fill-opacity="0.85"/>
<circle cx="101.25" cy="186.47" r="1.25" fill="#5080e0" fill-opacity="0.85"/>
<circle cx="101.25" cy="187.56" r="1.25" fill="#7262d6" fill-opacity="0.85"/>
<circle cx="101.25" cy="188.10" r="1.25" fill="#5080e0" fill-opacity="0.85"/>
<circle cx="106.00" cy="179.97" r="1.25" fill="#306a30" fill-opacity="0.85"/>
<circle cx="106.00" cy="181.60" r="1.25" fill="#306a30" fill-opacity="0.85"/>
<circle cx="106.00" cy="183.22" r="1.25" fill="#d888e0" fill-opacity="0.85"/>
<circle cx="106.00" cy="184.85" r="1.25" fill="#c86060" fill-opacity="0.85"/>
<circle cx="106.00" cy="186.47" r="1.25" fill="#5080e0" fill-opacity="0.85"/>
<circle cx="106.00" cy="187.56" r="1.25" fill="#308888" fill-opacity="0.85"/>
<circle cx="106.00" cy="188.10" r="1.25" fill="#5080e0" fill-opacity="0.85"/>
<circle cx="110.75" cy="179.97" r="1.25" fill="#60e0e0" fill-opacity="0.85"/>
<circle cx="110.75" cy="181.60" r="1.25" fill="#e03030" fill-opacity="0.85"/>
<circle cx="110.75" cy="183.22" r="1.25" fill="#5080e0" fill-opacity="0.85"/>
<circle cx="110.75" cy="184.85" r="1.25" fill="#306a30" fill-opacity="0.85"/>
<circle cx="110.75" cy="186.47" r="1.25" fill="#3a9a50" fill-opacity="0.85"/>
<circle cx="110.75" cy="187.56" r="1.25" fill="#5080e0" fill-opacity="0.85"/>
<circle cx="115.50" cy="179.97" r="1.25" fill="#60e0e0" fill-opacity="0.85"/>
<circle cx="115.50" cy="184.85" r="1.25" fill="#d888e0" fill-opacity="0.85"/>
<circle cx="115.50" cy="187.02" r="1.25" fill="#7262d6" fill-opacity="0.85"/>
<circle cx="115.50" cy="188.10" r="1.25" fill="#308888" fill-opacity="0.85"/>
<circle cx="134.50" cy="187.23" r="1.25" fill="#306a30" fill-opacity="0.85"/>
<circle cx="139.25" cy="179.10" r="1.25" fill="#74902c" fill-opacity="0.85"/>
<circle cx="139.25" cy="183.22" r="1.25" fill="#e03030" fill-opacity="0.85"/>
<circle cx="139.25" cy="184.31" r="1.25" fill="#5080e0" fill-opacity="0.85"/>
<circle cx="139.25" cy="185.39" r="1.25" fill="#e03030" fill-opacity="0.85"/>
<circle cx="139.25" cy="186.47" r="1.25" fill="#5080e0" fill-opacity="0.85"/>
<circle cx="139.25" cy="187.56" r="1.25" fill="#5080e0" fill-opacity="0.85"/>
<circle cx="144.00" cy="118.72" r="1.25" fill="#d888e0" fill-opacity="0.85"/>
<circle cx="144.00" cy="166.85" r="1.25" fill="#d888e0" fill-opacity="0.85"/>
<circle cx="144.00" cy="170.11" r="1.25" fill="#74902c" fill-opacity="0.85"/>
<circle cx="144.00" cy="173.25" r="1.25" fill="#e03030" fill-opacity="0.85"/>
<circle cx="144.00" cy="177.04" r="1.25" fill="#d888e0" fill-opacity="0.85"/>
<circle cx="144.00" cy="179.10" r="1.25" fill="#5080e0" fill-opacity="0.85"/>
<circle cx="144.00" cy="180.51" r="1.25" fill="#e03030" fill-opacity="0.85"/>
<circle cx="144.00" cy="182.14" r="1.25" fill="#308888" fill-opacity="0.85"/>
<circle cx="144.00" cy="183.76" r="1.25" fill="#5080e0" fill-opacity="0.85"/>
<circle cx="144.00" cy="185.39" r="1.25" fill="#308888" fill-opacity="0.85"/>
<circle cx="144.00" cy="187.02" r="1.25" fill="#5080e0" fill-opacity="0.85"/>
<circle cx="144.00" cy="188.10" r="1.25" fill="#308888" fill-opacity="0.85"/>
<circle cx="148.75" cy="118.72" r="1.25" fill="#5080e0" fill-opacity="0.85"/>
<circle cx="148.75" cy="170.76" r="1.25" fill="#74902c" fill-opacity="0.85"/>
<circle cx="148.75" cy="175.09" r="1.25" fill="#d888e0" fill-opacity="0.85"/>
<circle cx="148.75" cy="178.34" r="1.25" fill="#306a30" fill-opacity="0.85"/>
<circle cx="148.75" cy="179.97" r="1.25" fill="#5080e0" fill-opacity="0.85"/>
<circle cx="148.75" cy="181.60" r="1.25" fill="#5080e0" fill-opacity="0.85"/>
<circle cx="148.75" cy="183.22" r="1.25" fill="#d888e0" fill-opacity="0.85"/>
<circle cx="148.75" cy="184.85" r="1.25" fill="#d888e0" fill-opacity="0.85"/>
<circle cx="148.75" cy="186.47" r="1.25" fill="#d888e0" fill-opacity="0.85"/>
<circle cx="148.75" cy="187.56" r="1.25" fill="#5080e0" fill-opacity="0.85"/>
<circle cx="153.50" cy="170.11" r="1.25" fill="#74902c" fill-opacity="0.85"/>
<circle cx="153.50" cy="173.57" r="1.25" fill="#74902c" fill-opacity="0.85"/>
<circle cx="153.50" cy="179.10" r="1.25" fill="#5080e0" fill-opacity="0.85"/>
<circle cx="153.50" cy="181.05" r="1.25" fill="#7262d6" fill-opacity="0.85"/>
<circle cx="153.50" cy="182.68" r="1.25" fill="#5080e0" fill-opacity="0.85"/>
<circle cx="153.50" cy="184.31" r="1.25" fill="#74902c" fill-opacity="0.85"/>
<circle cx="153.50" cy="185.93" r="1.25" fill="#d888e0" fill-opacity="0.85"/>
<circle cx="153.50" cy="187.56" r="1.25" fill="#5080e0" fill-opacity="0.85"/>
<circle cx="158.25" cy="171.84" r="1.25" fill="#5080e0" fill-opacity="0.85"/>
<circle cx="158.25" cy="175.09" r="1.25" fill="#74902c" fill-opacity="0.85"/>
<circle cx="158.25" cy="177.26" r="1.25" fill="#308888" fill-opacity="0.85"/>
<circle cx="158.25" cy="178.89" r="1.25" fill="#5080e0" fill-opacity="0.85"/>
<circle cx="158.25" cy="180.51" r="1.25" fill="#308888" fill-opacity="0.85"/>
<circle cx="158.25" cy="182.14" r="1.25" fill="#5080e0" fill-opacity="0.85"/>
<circle cx="158.25" cy="183.76" r="1.25" fill="#308888" fill-opacity="0.85"/>
<circle cx="158.25" cy="185.39" r="1.25" fill="#308888" fill-opacity="0.85"/>
<circle cx="158.25" cy="187.02" r="1.25" fill="#5080e0" fill-opacity="0.85"/>
<circle cx="158.25" cy="188.10" r="1.25" fill="#308888" fill-opacity="0.85"/>
<circle cx="163.00" cy="166.96" r="1.25" fill="#5080e0" fill-opacity="0.85"/>
<circle cx="163.00" cy="168.05" r="1.25" fill="#5080e0" fill-opacity="0.85"/>
<circle cx="163.00" cy="182.68" r="1.25" fill="#5080e0" fill-opacity="0.85"/>
<circle cx="163.00" cy="184.31" r="1.25" fill="#308888" fill-opacity="0.85"/>
<circle cx="163.00" cy="185.93" r="1.25" fill="#308888" fill-opacity="0.85"/>
<circle cx="163.00" cy="187.56" r="1.25" fill="#5080e0" fill-opacity="0.85"/>
<circle cx="167.75" cy="158.29" r="1.25" fill="#d888e0" fill-opacity="0.85"/>
<circle cx="167.75" cy="184.31" r="1.25" fill="#d888e0" fill-opacity="0.85"/>
<circle cx="167.75" cy="185.93" r="1.25" fill="#202080" fill-opacity="0.85"/>
<circle cx="167.75" cy="187.56" r="1.25" fill="#d888e0" fill-opacity="0.85"/>
<circle cx="172.50" cy="183.33" r="1.25" fill="#3a9a50" fill-opacity="0.85"/>
<circle cx="172.50" cy="187.56" r="1.25" fill="#3a9a50" fill-opacity="0.85"/>
<circle cx="177.25" cy="182.14" r="1.25" fill="#70d040" fill-opacity="0.85"/>
<circle cx="177.25" cy="184.85" r="1.25" fill="#70d040" fill-opacity="0.85"/>
<circle cx="177.25" cy="187.56" r="1.25" fill="#70d040" fill-opacity="0.85"/>
<circle cx="182.00" cy="182.68" r="1.25" fill="#5080e0" fill-opacity="0.85"/>
<circle cx="182.00" cy="184.31" r="1.25" fill="#7262d6" fill-opacity="0.85"/>
<circle cx="182.00" cy="185.93" r="1.25" fill="#5080e0" fill-opacity="0.85"/>
<circle cx="182.00" cy="187.56" r="1.25" fill="#5080e0" fill-opacity="0.85"/>
<circle cx="186.75" cy="134.98" r="1.25" fill="#74902c" fill-opacity="0.85"/>
<circle cx="186.75" cy="172.92" r="1.25" fill="#74902c" fill-opacity="0.85"/>
<circle cx="186.75" cy="176.18" r="1.25" fill="#74902c" fill-opacity="0.85"/>
<circle cx="186.75" cy="184.31" r="1.25" fill="#74902c" fill-opacity="0.85"/>
<circle cx="186.75" cy="185.93" r="1.25" fill="#74902c" fill-opacity="0.85"/>
<circle cx="186.75" cy="187.56" r="1.25" fill="#74902c" fill-opacity="0.85"/>
<circle cx="201.00" cy="171.08" r="1.25" fill="#74902c" fill-opacity="0.85"/>
<circle cx="201.00" cy="187.02" r="1.25" fill="#74902c" fill-opacity="0.85"/>
<circle cx="201.00" cy="188.10" r="1.25" fill="#306a30" fill-opacity="0.85"/>
<circle cx="215.25" cy="188.10" r="1.25" fill="#40b0f0" fill-opacity="0.85"/>
<circle cx="215.25" cy="187.02" r="1.25" fill="#40b0f0" fill-opacity="0.85"/>
<circle cx="139.25" cy="188.10" r="1.25" fill="#306a30" fill-opacity="0.85"/>
<circle cx="139.25" cy="186.91" r="1.25" fill="#306a30" fill-opacity="0.85"/>
<circle cx="139.25" cy="185.72" r="1.25" fill="#5080e0" fill-opacity="0.85"/>
<circle cx="139.25" cy="184.52" r="1.25" fill="#5080e0" fill-opacity="0.85"/>
<circle cx="144.00" cy="188.10" r="1.25" fill="#306a30" fill-opacity="0.85"/>
<circle cx="144.00" cy="186.91" r="1.25" fill="#306a30" fill-opacity="0.85"/>
<circle cx="144.00" cy="185.72" r="1.25" fill="#d888e0" fill-opacity="0.85"/>
<circle cx="144.00" cy="184.52" r="1.25" fill="#306a30" fill-opacity="0.85"/>
<circle cx="144.00" cy="183.33" r="1.25" fill="#7262d6" fill-opacity="0.85"/>
<circle cx="144.00" cy="182.14" r="1.25" fill="#306a30" fill-opacity="0.85"/>
<circle cx="144.00" cy="180.95" r="1.25" fill="#3a9a50" fill-opacity="0.85"/>
<circle cx="144.00" cy="179.75" r="1.25" fill="#5080e0" fill-opacity="0.85"/>
<circle cx="148.75" cy="188.10" r="1.25" fill="#d888e0" fill-opacity="0.85"/>
<circle cx="148.75" cy="186.91" r="1.25" fill="#306a30" fill-opacity="0.85"/>
<circle cx="148.75" cy="185.72" r="1.25" fill="#5080e0" fill-opacity="0.85"/>
<circle cx="148.75" cy="184.52" r="1.25" fill="#306a30" fill-opacity="0.85"/>
<circle cx="148.75" cy="183.33" r="1.25" fill="#d888e0" fill-opacity="0.85"/>
<circle cx="148.75" cy="182.14" r="1.25" fill="#5080e0" fill-opacity="0.85"/>
<circle cx="148.75" cy="180.95" r="1.25" fill="#5080e0" fill-opacity="0.85"/>
<circle cx="148.75" cy="179.75" r="1.25" fill="#d888e0" fill-opacity="0.85"/>
<circle cx="153.50" cy="188.10" r="1.25" fill="#308888" fill-opacity="0.85"/>
<circle cx="153.50" cy="186.91" r="1.25" fill="#7262d6" fill-opacity="0.85"/>
<circle cx="153.50" cy="185.72" r="1.25" fill="#5080e0" fill-opacity="0.85"/>
<circle cx="153.50" cy="184.52" r="1.25" fill="#5080e0" fill-opacity="0.85"/>
<circle cx="153.50" cy="183.33" r="1.25" fill="#5080e0" fill-opacity="0.85"/>
<circle cx="153.50" cy="182.14" r="1.25" fill="#308888" fill-opacity="0.85"/>
<circle cx="153.50" cy="180.95" r="1.25" fill="#3a9a50" fill-opacity="0.85"/>
<circle cx="158.25" cy="188.10" r="1.25" fill="#d888e0" fill-opacity="0.85"/>
<circle cx="158.25" cy="186.91" r="1.25" fill="#308888" fill-opacity="0.85"/>
<circle cx="158.25" cy="185.72" r="1.25" fill="#306a30" fill-opacity="0.85"/>
<circle cx="158.25" cy="184.52" r="1.25" fill="#308888" fill-opacity="0.85"/>
<circle cx="158.25" cy="183.33" r="1.25" fill="#5080e0" fill-opacity="0.85"/>
<circle cx="158.25" cy="182.14" r="1.25" fill="#5080e0" fill-opacity="0.85"/>
<circle cx="158.25" cy="180.95" r="1.25" fill="#3a9a50" fill-opacity="0.85"/>
<circle cx="158.25" cy="179.75" r="1.25" fill="#5080e0" fill-opacity="0.85"/>
<circle cx="158.25" cy="178.56" r="1.25" fill="#5080e0" fill-opacity="0.85"/>
<circle cx="158.25" cy="177.37" r="1.25" fill="#308888" fill-opacity="0.85"/>
<circle cx="163.00" cy="188.10" r="1.25" fill="#5080e0" fill-opacity="0.85"/>
<circle cx="163.00" cy="186.91" r="1.25" fill="#5080e0" fill-opacity="0.85"/>
<circle cx="163.00" cy="185.72" r="1.25" fill="#7262d6" fill-opacity="0.85"/>
<circle cx="163.00" cy="184.52" r="1.25" fill="#d888e0" fill-opacity="0.85"/>
<circle cx="101.25" cy="188.10" r="1.25" fill="#308888" fill-opacity="0.85"/>
<circle cx="101.25" cy="186.91" r="1.25" fill="#3a9a50" fill-opacity="0.85"/>
<circle cx="101.25" cy="185.72" r="1.25" fill="#5080e0" fill-opacity="0.85"/>
<circle cx="101.25" cy="184.52" r="1.25" fill="#3a9a50" fill-opacity="0.85"/>
<circle cx="101.25" cy="183.33" r="1.25" fill="#7262d6" fill-opacity="0.85"/>
<circle cx="101.25" cy="182.14" r="1.25" fill="#d888e0" fill-opacity="0.85"/>
<circle cx="106.00" cy="188.10" r="1.25" fill="#306a30" fill-opacity="0.85"/>
<circle cx="106.00" cy="186.91" r="1.25" fill="#5080e0" fill-opacity="0.85"/>
<circle cx="106.00" cy="185.72" r="1.25" fill="#d888e0" fill-opacity="0.85"/>
<circle cx="106.00" cy="184.52" r="1.25" fill="#306a30" fill-opacity="0.85"/>
<circle cx="106.00" cy="183.33" r="1.25" fill="#5080e0" fill-opacity="0.85"/>
<circle cx="106.00" cy="182.14" r="1.25" fill="#308888" fill-opacity="0.85"/>
<circle cx="110.75" cy="188.10" r="1.25" fill="#308888" fill-opacity="0.85"/>
<circle cx="110.75" cy="186.91" r="1.25" fill="#5080e0" fill-opacity="0.85"/>
<circle cx="110.75" cy="185.72" r="1.25" fill="#308888" fill-opacity="0.85"/>
<circle cx="110.75" cy="184.52" r="1.25" fill="#308888" fill-opacity="0.85"/>
<circle cx="110.75" cy="183.33" r="1.25" fill="#308888" fill-opacity="0.85"/>
<rect x="45.9" y="116.4" width="177.29999999999998" height="74.79999999999998" fill="none" stroke="#404040" stroke-width="1.3"/>
<path d="M77.50,191.2v2.2 M125.00,191.2v2.2 M172.50,191.2v2.2 M220.00,191.2v2.2 M53.75,191.2v1.6 M101.25,191.2v1.6 M148.75,191.2v1.6 M196.25,191.2v1.6 M45.9,188.10h-2.2 M45.9,161.00h-2.2 M45.9,133.90h-2.2 M45.9,174.55h-1.6 M45.9,147.45h-1.6" stroke="#333" stroke-width="0.8"/>
<text x="42.90" y="190.70" font-size="7.4" text-anchor="end" font-weight="bold" textLength="2.80" lengthAdjust="spacingAndGlyphs" fill="#231f20">0</text>
<text x="42.90" y="163.60" font-size="7.4" text-anchor="end" font-weight="bold" textLength="7.60" lengthAdjust="spacingAndGlyphs" fill="#231f20">2.5</text>
<text x="42.90" y="136.50" font-size="7.4" text-anchor="end" font-weight="bold" textLength="7.60" lengthAdjust="spacingAndGlyphs" fill="#231f20">5.0</text>
<text x="75.90" y="199.20" font-size="7.4" text-anchor="middle" font-weight="bold" textLength="9.50" lengthAdjust="spacingAndGlyphs" fill="#231f20">-10</text>
<text x="125.00" y="199.20" font-size="7.4" text-anchor="middle" font-weight="bold" textLength="3.20" lengthAdjust="spacingAndGlyphs" fill="#231f20">0</text>
<text x="172.50" y="199.20" font-size="7.4" text-anchor="middle" font-weight="bold" textLength="6.30" lengthAdjust="spacingAndGlyphs" fill="#231f20">10</text>
<text x="220.00" y="199.20" font-size="7.4" text-anchor="middle" font-weight="bold" textLength="6.30" lengthAdjust="spacingAndGlyphs" fill="#231f20">20</text>
<text x="51.00" y="127.30" font-size="8.0" text-anchor="start" font-weight="bold" textLength="21.40" lengthAdjust="spacingAndGlyphs" fill="#231f20">Phaant1</text>
<circle cx="54.39" cy="282.41" r="1.25" fill="#306a30" fill-opacity="0.85"/>
<circle cx="54.39" cy="289.30" r="1.25" fill="#306a30" fill-opacity="0.85"/>
<circle cx="70.11" cy="289.30" r="1.25" fill="#5080e0" fill-opacity="0.85"/>
<circle cx="70.11" cy="286.84" r="1.25" fill="#5080e0" fill-opacity="0.85"/>
<circle cx="74.04" cy="280.44" r="1.25" fill="#306a30" fill-opacity="0.85"/>
<circle cx="74.04" cy="284.38" r="1.25" fill="#306a30" fill-opacity="0.85"/>
<circle cx="74.04" cy="286.84" r="1.25" fill="#3a9a50" fill-opacity="0.85"/>
<circle cx="74.04" cy="289.30" r="1.25" fill="#306a30" fill-opacity="0.85"/>
<circle cx="77.97" cy="284.87" r="1.25" fill="#d888e0" fill-opacity="0.85"/>
<circle cx="77.97" cy="286.84" r="1.25" fill="#7262d6" fill-opacity="0.85"/>
<circle cx="77.97" cy="289.30" r="1.25" fill="#5080e0" fill-opacity="0.85"/>
<circle cx="81.90" cy="285.86" r="1.25" fill="#202080" fill-opacity="0.85"/>
<circle cx="81.90" cy="287.82" r="1.25" fill="#202080" fill-opacity="0.85"/>
<circle cx="81.90" cy="289.30" r="1.25" fill="#202080" fill-opacity="0.85"/>
<circle cx="85.83" cy="277.98" r="1.25" fill="#5080e0" fill-opacity="0.85"/>
<circle cx="85.83" cy="285.36" r="1.25" fill="#308888" fill-opacity="0.85"/>
<circle cx="85.83" cy="287.33" r="1.25" fill="#308888" fill-opacity="0.85"/>
<circle cx="85.83" cy="289.30" r="1.25" fill="#5080e0" fill-opacity="0.85"/>
<circle cx="89.76" cy="277.49" r="1.25" fill="#e03030" fill-opacity="0.85"/>
<circle cx="89.76" cy="284.38" r="1.25" fill="#d888e0" fill-opacity="0.85"/>
<circle cx="89.76" cy="286.84" r="1.25" fill="#d888e0" fill-opacity="0.85"/>
<circle cx="89.76" cy="289.30" r="1.25" fill="#d888e0" fill-opacity="0.85"/>
<circle cx="93.69" cy="255.35" r="1.25" fill="#d888e0" fill-opacity="0.85"/>
<circle cx="93.69" cy="261.75" r="1.25" fill="#d888e0" fill-opacity="0.85"/>
<circle cx="93.69" cy="271.59" r="1.25" fill="#d888e0" fill-opacity="0.85"/>
<circle cx="93.69" cy="281.92" r="1.25" fill="#5080e0" fill-opacity="0.85"/>
<circle cx="93.69" cy="284.38" r="1.25" fill="#3a9a50" fill-opacity="0.85"/>
<circle cx="93.69" cy="286.84" r="1.25" fill="#5080e0" fill-opacity="0.85"/>
<circle cx="93.69" cy="289.30" r="1.25" fill="#7262d6" fill-opacity="0.85"/>
<circle cx="97.62" cy="281.92" r="1.25" fill="#306a30" fill-opacity="0.85"/>
<circle cx="97.62" cy="284.38" r="1.25" fill="#308888" fill-opacity="0.85"/>
<circle cx="97.62" cy="286.84" r="1.25" fill="#5080e0" fill-opacity="0.85"/>
<circle cx="97.62" cy="289.30" r="1.25" fill="#5080e0" fill-opacity="0.85"/>
<circle cx="101.55" cy="249.94" r="1.25" fill="#74902c" fill-opacity="0.85"/>
<circle cx="101.55" cy="271.59" r="1.25" fill="#d888e0" fill-opacity="0.85"/>
<circle cx="101.55" cy="279.46" r="1.25" fill="#74902c" fill-opacity="0.85"/>
<circle cx="101.55" cy="283.40" r="1.25" fill="#202080" fill-opacity="0.85"/>
<circle cx="101.55" cy="285.86" r="1.25" fill="#5080e0" fill-opacity="0.85"/>
<circle cx="101.55" cy="288.32" r="1.25" fill="#5080e0" fill-opacity="0.85"/>
<circle cx="105.48" cy="255.35" r="1.25" fill="#5080e0" fill-opacity="0.85"/>
<circle cx="105.48" cy="261.75" r="1.25" fill="#5080e0" fill-opacity="0.85"/>
<circle cx="105.48" cy="264.70" r="1.25" fill="#74902c" fill-opacity="0.85"/>
<circle cx="105.48" cy="272.08" r="1.25" fill="#202080" fill-opacity="0.85"/>
<circle cx="105.48" cy="274.54" r="1.25" fill="#202080" fill-opacity="0.85"/>
<circle cx="105.48" cy="277.00" r="1.25" fill="#202080" fill-opacity="0.85"/>
<circle cx="105.48" cy="283.40" r="1.25" fill="#5080e0" fill-opacity="0.85"/>
<circle cx="105.48" cy="285.86" r="1.25" fill="#5080e0" fill-opacity="0.85"/>
<circle cx="105.48" cy="288.32" r="1.25" fill="#308888" fill-opacity="0.85"/>
<circle cx="109.41" cy="220.91" r="1.25" fill="#7262d6" fill-opacity="0.85"/>
<circle cx="109.41" cy="230.26" r="1.25" fill="#7262d6" fill-opacity="0.85"/>
<circle cx="109.41" cy="258.30" r="1.25" fill="#7262d6" fill-opacity="0.85"/>
<circle cx="109.41" cy="285.36" r="1.25" fill="#5080e0" fill-opacity="0.85"/>
<circle cx="109.41" cy="287.82" r="1.25" fill="#d888e0" fill-opacity="0.85"/>
<circle cx="113.34" cy="286.35" r="1.25" fill="#308888" fill-opacity="0.85"/>
<circle cx="113.34" cy="288.32" r="1.25" fill="#d888e0" fill-opacity="0.85"/>
<circle cx="129.06" cy="283.40" r="1.25" fill="#306a30" fill-opacity="0.85"/>
<circle cx="129.06" cy="289.30" r="1.25" fill="#306a30" fill-opacity="0.85"/>
<circle cx="132.99" cy="289.30" r="1.25" fill="#5080e0" fill-opacity="0.85"/>
<circle cx="136.92" cy="286.35" r="1.25" fill="#308888" fill-opacity="0.85"/>
<circle cx="136.92" cy="289.30" r="1.25" fill="#e03030" fill-opacity="0.85"/>
<circle cx="140.85" cy="288.32" r="1.25" fill="#5080e0" fill-opacity="0.85"/>
<circle cx="140.85" cy="289.30" r="1.25" fill="#5080e0" fill-opacity="0.85"/>
<circle cx="148.71" cy="287.82" r="1.25" fill="#d888e0" fill-opacity="0.85"/>
<circle cx="148.71" cy="289.30" r="1.25" fill="#d888e0" fill-opacity="0.85"/>
<circle cx="156.57" cy="285.36" r="1.25" fill="#5080e0" fill-opacity="0.85"/>
<circle cx="156.57" cy="287.33" r="1.25" fill="#5080e0" fill-opacity="0.85"/>
<circle cx="156.57" cy="289.30" r="1.25" fill="#5080e0" fill-opacity="0.85"/>
<circle cx="160.50" cy="289.30" r="1.25" fill="#d888e0" fill-opacity="0.85"/>
<circle cx="168.36" cy="288.81" r="1.25" fill="#d888e0" fill-opacity="0.85"/>
<circle cx="172.29" cy="287.82" r="1.25" fill="#40b0f0" fill-opacity="0.85"/>
<circle cx="172.29" cy="289.30" r="1.25" fill="#40b0f0" fill-opacity="0.85"/>
<circle cx="215.52" cy="289.30" r="1.25" fill="#e03030" fill-opacity="0.85"/>
<circle cx="74.04" cy="289.30" r="1.25" fill="#306a30" fill-opacity="0.85"/>
<circle cx="74.04" cy="287.82" r="1.25" fill="#308888" fill-opacity="0.85"/>
<circle cx="74.04" cy="286.35" r="1.25" fill="#5080e0" fill-opacity="0.85"/>
<circle cx="74.04" cy="284.87" r="1.25" fill="#5080e0" fill-opacity="0.85"/>
<circle cx="77.97" cy="289.30" r="1.25" fill="#202080" fill-opacity="0.85"/>
<circle cx="77.97" cy="287.82" r="1.25" fill="#7262d6" fill-opacity="0.85"/>
<circle cx="77.97" cy="286.35" r="1.25" fill="#308888" fill-opacity="0.85"/>
<circle cx="77.97" cy="284.87" r="1.25" fill="#d888e0" fill-opacity="0.85"/>
<circle cx="81.90" cy="289.30" r="1.25" fill="#d888e0" fill-opacity="0.85"/>
<circle cx="81.90" cy="287.82" r="1.25" fill="#5080e0" fill-opacity="0.85"/>
<circle cx="81.90" cy="286.35" r="1.25" fill="#308888" fill-opacity="0.85"/>
<circle cx="85.83" cy="289.30" r="1.25" fill="#5080e0" fill-opacity="0.85"/>
<circle cx="85.83" cy="287.82" r="1.25" fill="#7262d6" fill-opacity="0.85"/>
<circle cx="85.83" cy="286.35" r="1.25" fill="#d888e0" fill-opacity="0.85"/>
<circle cx="85.83" cy="284.87" r="1.25" fill="#7262d6" fill-opacity="0.85"/>
<circle cx="85.83" cy="283.40" r="1.25" fill="#7262d6" fill-opacity="0.85"/>
<circle cx="89.76" cy="289.30" r="1.25" fill="#d888e0" fill-opacity="0.85"/>
<circle cx="89.76" cy="287.82" r="1.25" fill="#308888" fill-opacity="0.85"/>
<circle cx="89.76" cy="286.35" r="1.25" fill="#306a30" fill-opacity="0.85"/>
<circle cx="89.76" cy="284.87" r="1.25" fill="#202080" fill-opacity="0.85"/>
<circle cx="89.76" cy="283.40" r="1.25" fill="#7262d6" fill-opacity="0.85"/>
<circle cx="89.76" cy="281.92" r="1.25" fill="#7262d6" fill-opacity="0.85"/>
<circle cx="93.69" cy="289.30" r="1.25" fill="#306a30" fill-opacity="0.85"/>
<circle cx="93.69" cy="287.82" r="1.25" fill="#306a30" fill-opacity="0.85"/>
<circle cx="93.69" cy="286.35" r="1.25" fill="#306a30" fill-opacity="0.85"/>
<circle cx="93.69" cy="284.87" r="1.25" fill="#5080e0" fill-opacity="0.85"/>
<circle cx="93.69" cy="283.40" r="1.25" fill="#5080e0" fill-opacity="0.85"/>
<circle cx="93.69" cy="281.92" r="1.25" fill="#202080" fill-opacity="0.85"/>
<circle cx="97.62" cy="289.30" r="1.25" fill="#202080" fill-opacity="0.85"/>
<circle cx="97.62" cy="287.82" r="1.25" fill="#202080" fill-opacity="0.85"/>
<circle cx="97.62" cy="286.35" r="1.25" fill="#306a30" fill-opacity="0.85"/>
<circle cx="97.62" cy="284.87" r="1.25" fill="#202080" fill-opacity="0.85"/>
<circle cx="97.62" cy="283.40" r="1.25" fill="#7262d6" fill-opacity="0.85"/>
<circle cx="97.62" cy="281.92" r="1.25" fill="#5080e0" fill-opacity="0.85"/>
<circle cx="97.62" cy="280.44" r="1.25" fill="#5080e0" fill-opacity="0.85"/>
<circle cx="101.55" cy="289.30" r="1.25" fill="#5080e0" fill-opacity="0.85"/>
<circle cx="101.55" cy="287.82" r="1.25" fill="#5080e0" fill-opacity="0.85"/>
<circle cx="101.55" cy="286.35" r="1.25" fill="#5080e0" fill-opacity="0.85"/>
<circle cx="101.55" cy="284.87" r="1.25" fill="#5080e0" fill-opacity="0.85"/>
<circle cx="101.55" cy="283.40" r="1.25" fill="#306a30" fill-opacity="0.85"/>
<circle cx="101.55" cy="281.92" r="1.25" fill="#5080e0" fill-opacity="0.85"/>
<circle cx="105.48" cy="289.30" r="1.25" fill="#5080e0" fill-opacity="0.85"/>
<circle cx="105.48" cy="287.82" r="1.25" fill="#308888" fill-opacity="0.85"/>
<circle cx="105.48" cy="286.35" r="1.25" fill="#5080e0" fill-opacity="0.85"/>
<circle cx="105.48" cy="284.87" r="1.25" fill="#308888" fill-opacity="0.85"/>
<circle cx="105.48" cy="283.40" r="1.25" fill="#5080e0" fill-opacity="0.85"/>
<circle cx="105.48" cy="281.92" r="1.25" fill="#308888" fill-opacity="0.85"/>
<circle cx="109.41" cy="289.30" r="1.25" fill="#5080e0" fill-opacity="0.85"/>
<circle cx="109.41" cy="287.82" r="1.25" fill="#d888e0" fill-opacity="0.85"/>
<circle cx="109.41" cy="286.35" r="1.25" fill="#7262d6" fill-opacity="0.85"/>
<circle cx="109.41" cy="284.87" r="1.25" fill="#5080e0" fill-opacity="0.85"/>
<circle cx="113.34" cy="289.30" r="1.25" fill="#5080e0" fill-opacity="0.85"/>
<circle cx="113.34" cy="287.82" r="1.25" fill="#5080e0" fill-opacity="0.85"/>
<circle cx="113.34" cy="286.35" r="1.25" fill="#7262d6" fill-opacity="0.85"/>
<rect x="46.5" y="217.4" width="176.9" height="74.70000000000002" fill="none" stroke="#404040" stroke-width="1.3"/>
<path d="M81.90,292.1v2.2 M121.20,292.1v2.2 M160.50,292.1v2.2 M199.80,292.1v2.2 M62.25,292.1v1.6 M101.55,292.1v1.6 M140.85,292.1v1.6 M180.15,292.1v1.6 M46.5,289.30h-2.2 M46.5,264.70h-2.2 M46.5,240.10h-2.2 M46.5,277.00h-1.6 M46.5,252.40h-1.6 M46.5,227.80h-1.6" stroke="#333" stroke-width="0.8"/>
<text x="43.50" y="291.90" font-size="7.4" text-anchor="end" font-weight="bold" textLength="2.80" lengthAdjust="spacingAndGlyphs" fill="#231f20">0</text>
<text x="43.50" y="267.30" font-size="7.4" text-anchor="end" font-weight="bold" textLength="7.60" lengthAdjust="spacingAndGlyphs" fill="#231f20">0.5</text>
<text x="43.50" y="242.70" font-size="7.4" text-anchor="end" font-weight="bold" textLength="7.60" lengthAdjust="spacingAndGlyphs" fill="#231f20">1.0</text>
<text x="80.30" y="300.10" font-size="7.4" text-anchor="middle" font-weight="bold" textLength="9.50" lengthAdjust="spacingAndGlyphs" fill="#231f20">-10</text>
<text x="121.20" y="300.10" font-size="7.4" text-anchor="middle" font-weight="bold" textLength="3.20" lengthAdjust="spacingAndGlyphs" fill="#231f20">0</text>
<text x="160.50" y="300.10" font-size="7.4" text-anchor="middle" font-weight="bold" textLength="6.30" lengthAdjust="spacingAndGlyphs" fill="#231f20">10</text>
<text x="199.80" y="300.10" font-size="7.4" text-anchor="middle" font-weight="bold" textLength="6.30" lengthAdjust="spacingAndGlyphs" fill="#231f20">20</text>
<text x="48.70" y="228.30" font-size="8.0" text-anchor="start" font-weight="bold" textLength="20.50" lengthAdjust="spacingAndGlyphs" fill="#231f20">Phaglo1</text>
<circle cx="54.50" cy="390.45" r="1.25" fill="#306a30" fill-opacity="0.85"/>
<circle cx="54.50" cy="391.92" r="1.25" fill="#306a30" fill-opacity="0.85"/>
<circle cx="54.50" cy="393.40" r="1.25" fill="#306a30" fill-opacity="0.85"/>
<circle cx="59.90" cy="359.47" r="1.25" fill="#c86060" fill-opacity="0.85"/>
<circle cx="59.90" cy="363.90" r="1.25" fill="#c86060" fill-opacity="0.85"/>
<circle cx="59.90" cy="371.27" r="1.25" fill="#c86060" fill-opacity="0.85"/>
<circle cx="59.90" cy="377.91" r="1.25" fill="#c86060" fill-opacity="0.85"/>
<circle cx="59.90" cy="383.07" r="1.25" fill="#c86060" fill-opacity="0.85"/>
<circle cx="59.90" cy="387.50" r="1.25" fill="#c86060" fill-opacity="0.85"/>
<circle cx="59.90" cy="390.45" r="1.25" fill="#c86060" fill-opacity="0.85"/>
<circle cx="59.90" cy="393.40" r="1.25" fill="#c86060" fill-opacity="0.85"/>
<circle cx="65.30" cy="387.50" r="1.25" fill="#74902c" fill-opacity="0.85"/>
<circle cx="65.30" cy="390.45" r="1.25" fill="#74902c" fill-opacity="0.85"/>
<circle cx="65.30" cy="393.40" r="1.25" fill="#74902c" fill-opacity="0.85"/>
<circle cx="76.10" cy="393.40" r="1.25" fill="#3a9a50" fill-opacity="0.85"/>
<circle cx="97.70" cy="388.97" r="1.25" fill="#202080" fill-opacity="0.85"/>
<circle cx="97.70" cy="393.40" r="1.25" fill="#202080" fill-opacity="0.85"/>
<circle cx="103.10" cy="374.22" r="1.25" fill="#5080e0" fill-opacity="0.85"/>
<circle cx="103.10" cy="384.55" r="1.25" fill="#5080e0" fill-opacity="0.85"/>
<circle cx="103.10" cy="387.50" r="1.25" fill="#5080e0" fill-opacity="0.85"/>
<circle cx="103.10" cy="390.45" r="1.25" fill="#3a9a50" fill-opacity="0.85"/>
<circle cx="103.10" cy="393.40" r="1.25" fill="#3a9a50" fill-opacity="0.85"/>
<circle cx="108.50" cy="369.80" r="1.25" fill="#3a9a50" fill-opacity="0.85"/>
<circle cx="108.50" cy="374.22" r="1.25" fill="#7262d6" fill-opacity="0.85"/>
<circle cx="108.50" cy="377.17" r="1.25" fill="#7262d6" fill-opacity="0.85"/>
<circle cx="108.50" cy="380.12" r="1.25" fill="#5080e0" fill-opacity="0.85"/>
<circle cx="108.50" cy="383.07" r="1.25" fill="#7262d6" fill-opacity="0.85"/>
<circle cx="108.50" cy="386.02" r="1.25" fill="#5080e0" fill-opacity="0.85"/>
<circle cx="108.50" cy="388.97" r="1.25" fill="#5080e0" fill-opacity="0.85"/>
<circle cx="108.50" cy="391.92" r="1.25" fill="#3a9a50" fill-opacity="0.85"/>
<circle cx="113.90" cy="363.90" r="1.25" fill="#7262d6" fill-opacity="0.85"/>
<circle cx="113.90" cy="367.59" r="1.25" fill="#7262d6" fill-opacity="0.85"/>
<circle cx="113.90" cy="371.27" r="1.25" fill="#7262d6" fill-opacity="0.85"/>
<circle cx="113.90" cy="374.96" r="1.25" fill="#7262d6" fill-opacity="0.85"/>
<circle cx="113.90" cy="378.65" r="1.25" fill="#5080e0" fill-opacity="0.85"/>
<circle cx="113.90" cy="381.60" r="1.25" fill="#7262d6" fill-opacity="0.85"/>
<circle cx="113.90" cy="384.55" r="1.25" fill="#5080e0" fill-opacity="0.85"/>
<circle cx="113.90" cy="387.50" r="1.25" fill="#3a9a50" fill-opacity="0.85"/>
<circle cx="113.90" cy="390.45" r="1.25" fill="#d888e0" fill-opacity="0.85"/>
<circle cx="113.90" cy="393.40" r="1.25" fill="#5080e0" fill-opacity="0.85"/>
<circle cx="119.30" cy="332.92" r="1.25" fill="#306a30" fill-opacity="0.85"/>
<circle cx="119.30" cy="356.52" r="1.25" fill="#60e0e0" fill-opacity="0.85"/>
<circle cx="119.30" cy="363.90" r="1.25" fill="#7262d6" fill-opacity="0.85"/>
<circle cx="119.30" cy="367.59" r="1.25" fill="#7262d6" fill-opacity="0.85"/>
<circle cx="119.30" cy="371.27" r="1.25" fill="#7262d6" fill-opacity="0.85"/>
<circle cx="119.30" cy="374.96" r="1.25" fill="#306a30" fill-opacity="0.85"/>
<circle cx="119.30" cy="378.65" r="1.25" fill="#5080e0" fill-opacity="0.85"/>
<circle cx="119.30" cy="381.60" r="1.25" fill="#7262d6" fill-opacity="0.85"/>
<circle cx="119.30" cy="384.55" r="1.25" fill="#3a9a50" fill-opacity="0.85"/>
<circle cx="119.30" cy="387.50" r="1.25" fill="#5080e0" fill-opacity="0.85"/>
<circle cx="119.30" cy="390.45" r="1.25" fill="#306a30" fill-opacity="0.85"/>
<circle cx="119.30" cy="393.40" r="1.25" fill="#306a30" fill-opacity="0.85"/>
<circle cx="124.70" cy="363.90" r="1.25" fill="#7262d6" fill-opacity="0.85"/>
<circle cx="124.70" cy="367.59" r="1.25" fill="#7262d6" fill-opacity="0.85"/>
<circle cx="124.70" cy="371.27" r="1.25" fill="#7262d6" fill-opacity="0.85"/>
<circle cx="124.70" cy="374.96" r="1.25" fill="#7262d6" fill-opacity="0.85"/>
<circle cx="124.70" cy="378.65" r="1.25" fill="#5080e0" fill-opacity="0.85"/>
<circle cx="124.70" cy="381.60" r="1.25" fill="#7262d6" fill-opacity="0.85"/>
<circle cx="124.70" cy="384.55" r="1.25" fill="#5080e0" fill-opacity="0.85"/>
<circle cx="124.70" cy="387.50" r="1.25" fill="#7262d6" fill-opacity="0.85"/>
<circle cx="124.70" cy="390.45" r="1.25" fill="#5080e0" fill-opacity="0.85"/>
<circle cx="124.70" cy="393.40" r="1.25" fill="#3a9a50" fill-opacity="0.85"/>
<circle cx="130.10" cy="324.07" r="1.25" fill="#d888e0" fill-opacity="0.85"/>
<circle cx="130.10" cy="363.90" r="1.25" fill="#7262d6" fill-opacity="0.85"/>
<circle cx="130.10" cy="369.06" r="1.25" fill="#7262d6" fill-opacity="0.85"/>
<circle cx="130.10" cy="374.22" r="1.25" fill="#7262d6" fill-opacity="0.85"/>
<circle cx="130.10" cy="377.91" r="1.25" fill="#7262d6" fill-opacity="0.85"/>
<circle cx="130.10" cy="381.60" r="1.25" fill="#7262d6" fill-opacity="0.85"/>
<circle cx="130.10" cy="384.55" r="1.25" fill="#5080e0" fill-opacity="0.85"/>
<circle cx="130.10" cy="387.50" r="1.25" fill="#7262d6" fill-opacity="0.85"/>
<circle cx="130.10" cy="390.45" r="1.25" fill="#d888e0" fill-opacity="0.85"/>
<circle cx="130.10" cy="393.40" r="1.25" fill="#5080e0" fill-opacity="0.85"/>
<circle cx="135.50" cy="363.90" r="1.25" fill="#7262d6" fill-opacity="0.85"/>
<circle cx="135.50" cy="369.06" r="1.25" fill="#7262d6" fill-opacity="0.85"/>
<circle cx="135.50" cy="374.22" r="1.25" fill="#7262d6" fill-opacity="0.85"/>
<circle cx="135.50" cy="377.91" r="1.25" fill="#7262d6" fill-opacity="0.85"/>
<circle cx="135.50" cy="381.60" r="1.25" fill="#7262d6" fill-opacity="0.85"/>
<circle cx="135.50" cy="384.55" r="1.25" fill="#7262d6" fill-opacity="0.85"/>
<circle cx="135.50" cy="387.50" r="1.25" fill="#7262d6" fill-opacity="0.85"/>
<circle cx="135.50" cy="390.45" r="1.25" fill="#5080e0" fill-opacity="0.85"/>
<circle cx="135.50" cy="393.40" r="1.25" fill="#5080e0" fill-opacity="0.85"/>
<circle cx="140.90" cy="368.32" r="1.25" fill="#d888e0" fill-opacity="0.85"/>
<circle cx="140.90" cy="381.60" r="1.25" fill="#d888e0" fill-opacity="0.85"/>
<circle cx="140.90" cy="384.55" r="1.25" fill="#c86060" fill-opacity="0.85"/>
<circle cx="140.90" cy="387.50" r="1.25" fill="#d888e0" fill-opacity="0.85"/>
<circle cx="140.90" cy="390.45" r="1.25" fill="#d888e0" fill-opacity="0.85"/>
<circle cx="140.90" cy="393.40" r="1.25" fill="#d888e0" fill-opacity="0.85"/>
<circle cx="146.30" cy="363.90" r="1.25" fill="#7262d6" fill-opacity="0.85"/>
<circle cx="146.30" cy="374.22" r="1.25" fill="#7262d6" fill-opacity="0.85"/>
<circle cx="146.30" cy="377.91" r="1.25" fill="#7262d6" fill-opacity="0.85"/>
<circle cx="146.30" cy="381.60" r="1.25" fill="#7262d6" fill-opacity="0.85"/>
<circle cx="146.30" cy="384.55" r="1.25" fill="#7262d6" fill-opacity="0.85"/>
<circle cx="146.30" cy="387.50" r="1.25" fill="#5080e0" fill-opacity="0.85"/>
<circle cx="146.30" cy="390.45" r="1.25" fill="#7262d6" fill-opacity="0.85"/>
<circle cx="146.30" cy="393.40" r="1.25" fill="#5080e0" fill-opacity="0.85"/>
<circle cx="151.70" cy="363.90" r="1.25" fill="#7262d6" fill-opacity="0.85"/>
<circle cx="151.70" cy="381.60" r="1.25" fill="#5080e0" fill-opacity="0.85"/>
<circle cx="151.70" cy="384.55" r="1.25" fill="#308888" fill-opacity="0.85"/>
<circle cx="151.70" cy="387.50" r="1.25" fill="#5080e0" fill-opacity="0.85"/>
<circle cx="151.70" cy="390.45" r="1.25" fill="#d888e0" fill-opacity="0.85"/>
<circle cx="151.70" cy="393.40" r="1.25" fill="#5080e0" fill-opacity="0.85"/>
<circle cx="157.10" cy="360.95" r="1.25" fill="#5080e0" fill-opacity="0.85"/>
<circle cx="157.10" cy="381.60" r="1.25" fill="#5080e0" fill-opacity="0.85"/>
<circle cx="157.10" cy="384.55" r="1.25" fill="#5080e0" fill-opacity="0.85"/>
<circle cx="157.10" cy="387.50" r="1.25" fill="#5080e0" fill-opacity="0.85"/>
<circle cx="157.10" cy="390.45" r="1.25" fill="#5080e0" fill-opacity="0.85"/>
<circle cx="157.10" cy="393.40" r="1.25" fill="#5080e0" fill-opacity="0.85"/>
<circle cx="162.50" cy="383.81" r="1.25" fill="#3a9a50" fill-opacity="0.85"/>
<circle cx="162.50" cy="386.76" r="1.25" fill="#e03030" fill-opacity="0.85"/>
<circle cx="162.50" cy="388.97" r="1.25" fill="#5080e0" fill-opacity="0.85"/>
<circle cx="162.50" cy="391.19" r="1.25" fill="#5080e0" fill-opacity="0.85"/>
<circle cx="162.50" cy="393.40" r="1.25" fill="#5080e0" fill-opacity="0.85"/>
<circle cx="167.90" cy="383.81" r="1.25" fill="#d888e0" fill-opacity="0.85"/>
<circle cx="167.90" cy="386.76" r="1.25" fill="#d888e0" fill-opacity="0.85"/>
<circle cx="167.90" cy="388.97" r="1.25" fill="#5080e0" fill-opacity="0.85"/>
<circle cx="167.90" cy="391.19" r="1.25" fill="#5080e0" fill-opacity="0.85"/>
<circle cx="167.90" cy="393.40" r="1.25" fill="#5080e0" fill-opacity="0.85"/>
<circle cx="173.30" cy="386.76" r="1.25" fill="#7262d6" fill-opacity="0.85"/>
<circle cx="173.30" cy="388.97" r="1.25" fill="#7262d6" fill-opacity="0.85"/>
<circle cx="173.30" cy="391.19" r="1.25" fill="#7262d6" fill-opacity="0.85"/>
<circle cx="173.30" cy="393.40" r="1.25" fill="#7262d6" fill-opacity="0.85"/>
<circle cx="178.70" cy="384.55" r="1.25" fill="#3a9a50" fill-opacity="0.85"/>
<circle cx="178.70" cy="387.50" r="1.25" fill="#308888" fill-opacity="0.85"/>
<circle cx="178.70" cy="390.45" r="1.25" fill="#5080e0" fill-opacity="0.85"/>
<circle cx="178.70" cy="393.40" r="1.25" fill="#5080e0" fill-opacity="0.85"/>
<circle cx="184.10" cy="390.45" r="1.25" fill="#5080e0" fill-opacity="0.85"/>
<circle cx="184.10" cy="393.40" r="1.25" fill="#5080e0" fill-opacity="0.85"/>
<circle cx="194.90" cy="383.52" r="1.25" fill="#5080e0" fill-opacity="0.85"/>
<circle cx="194.90" cy="388.97" r="1.25" fill="#5080e0" fill-opacity="0.85"/>
<circle cx="194.90" cy="391.19" r="1.25" fill="#5080e0" fill-opacity="0.85"/>
<circle cx="194.90" cy="393.40" r="1.25" fill="#5080e0" fill-opacity="0.85"/>
<circle cx="200.30" cy="390.45" r="1.25" fill="#e03030" fill-opacity="0.85"/>
<circle cx="200.30" cy="391.92" r="1.25" fill="#e03030" fill-opacity="0.85"/>
<circle cx="200.30" cy="393.40" r="1.25" fill="#e03030" fill-opacity="0.85"/>
<circle cx="216.50" cy="393.40" r="1.25" fill="#306a30" fill-opacity="0.85"/>
<circle cx="108.50" cy="393.40" r="1.25" fill="#d888e0" fill-opacity="0.85"/>
<circle cx="108.50" cy="391.78" r="1.25" fill="#5080e0" fill-opacity="0.85"/>
<circle cx="108.50" cy="390.15" r="1.25" fill="#3a9a50" fill-opacity="0.85"/>
<circle cx="108.50" cy="388.53" r="1.25" fill="#7262d6" fill-opacity="0.85"/>
<circle cx="108.50" cy="386.91" r="1.25" fill="#5080e0" fill-opacity="0.85"/>
<circle cx="108.50" cy="385.29" r="1.25" fill="#5080e0" fill-opacity="0.85"/>
<circle cx="108.50" cy="383.66" r="1.25" fill="#308888" fill-opacity="0.85"/>
<circle cx="108.50" cy="382.04" r="1.25" fill="#5080e0" fill-opacity="0.85"/>
<circle cx="108.50" cy="380.42" r="1.25" fill="#d888e0" fill-opacity="0.85"/>
<circle cx="108.50" cy="378.80" r="1.25" fill="#5080e0" fill-opacity="0.85"/>
<circle cx="113.90" cy="393.40" r="1.25" fill="#5080e0" fill-opacity="0.85"/>
<circle cx="113.90" cy="391.78" r="1.25" fill="#308888" fill-opacity="0.85"/>
<circle cx="113.90" cy="390.15" r="1.25" fill="#7262d6" fill-opacity="0.85"/>
<circle cx="113.90" cy="388.53" r="1.25" fill="#5080e0" fill-opacity="0.85"/>
<circle cx="113.90" cy="386.91" r="1.25" fill="#5080e0" fill-opacity="0.85"/>
<circle cx="113.90" cy="385.29" r="1.25" fill="#3a9a50" fill-opacity="0.85"/>
<circle cx="113.90" cy="383.66" r="1.25" fill="#3a9a50" fill-opacity="0.85"/>
<circle cx="113.90" cy="382.04" r="1.25" fill="#5080e0" fill-opacity="0.85"/>
<circle cx="113.90" cy="380.42" r="1.25" fill="#7262d6" fill-opacity="0.85"/>
<circle cx="113.90" cy="378.80" r="1.25" fill="#5080e0" fill-opacity="0.85"/>
<circle cx="113.90" cy="377.17" r="1.25" fill="#308888" fill-opacity="0.85"/>
<circle cx="119.30" cy="393.40" r="1.25" fill="#3a9a50" fill-opacity="0.85"/>
<circle cx="119.30" cy="391.78" r="1.25" fill="#5080e0" fill-opacity="0.85"/>
<circle cx="119.30" cy="390.15" r="1.25" fill="#5080e0" fill-opacity="0.85"/>
<circle cx="119.30" cy="388.53" r="1.25" fill="#5080e0" fill-opacity="0.85"/>
<circle cx="119.30" cy="386.91" r="1.25" fill="#7262d6" fill-opacity="0.85"/>
<circle cx="119.30" cy="385.29" r="1.25" fill="#7262d6" fill-opacity="0.85"/>
<circle cx="119.30" cy="383.66" r="1.25" fill="#7262d6" fill-opacity="0.85"/>
<circle cx="119.30" cy="382.04" r="1.25" fill="#5080e0" fill-opacity="0.85"/>
<circle cx="119.30" cy="380.42" r="1.25" fill="#5080e0" fill-opacity="0.85"/>
<circle cx="119.30" cy="378.80" r="1.25" fill="#5080e0" fill-opacity="0.85"/>
<circle cx="119.30" cy="377.17" r="1.25" fill="#5080e0" fill-opacity="0.85"/>
<circle cx="124.70" cy="393.40" r="1.25" fill="#3a9a50" fill-opacity="0.85"/>
<circle cx="124.70" cy="391.78" r="1.25" fill="#5080e0" fill-opacity="0.85"/>
<circle cx="124.70" cy="390.15" r="1.25" fill="#7262d6" fill-opacity="0.85"/>
<circle cx="124.70" cy="388.53" r="1.25" fill="#5080e0" fill-opacity="0.85"/>
<circle cx="124.70" cy="386.91" r="1.25" fill="#308888" fill-opacity="0.85"/>
<circle cx="124.70" cy="385.29" r="1.25" fill="#5080e0" fill-opacity="0.85"/>
<circle cx="124.70" cy="383.66" r="1.25" fill="#7262d6" fill-opacity="0.85"/>
<circle cx="124.70" cy="382.04" r="1.25" fill="#3a9a50" fill-opacity="0.85"/>
<circle cx="124.70" cy="380.42" r="1.25" fill="#5080e0" fill-opacity="0.85"/>
<circle cx="124.70" cy="378.80" r="1.25" fill="#308888" fill-opacity="0.85"/>
<circle cx="124.70" cy="377.17" r="1.25" fill="#5080e0" fill-opacity="0.85"/>
<circle cx="130.10" cy="393.40" r="1.25" fill="#5080e0" fill-opacity="0.85"/>
<circle cx="130.10" cy="391.78" r="1.25" fill="#7262d6" fill-opacity="0.85"/>
<circle cx="130.10" cy="390.15" r="1.25" fill="#308888" fill-opacity="0.85"/>
<circle cx="130.10" cy="388.53" r="1.25" fill="#7262d6" fill-opacity="0.85"/>
<circle cx="130.10" cy="386.91" r="1.25" fill="#5080e0" fill-opacity="0.85"/>
<circle cx="130.10" cy="385.29" r="1.25" fill="#5080e0" fill-opacity="0.85"/>
<circle cx="130.10" cy="383.66" r="1.25" fill="#5080e0" fill-opacity="0.85"/>
<circle cx="130.10" cy="382.04" r="1.25" fill="#5080e0" fill-opacity="0.85"/>
<circle cx="130.10" cy="380.42" r="1.25" fill="#7262d6" fill-opacity="0.85"/>
<circle cx="130.10" cy="378.80" r="1.25" fill="#7262d6" fill-opacity="0.85"/>
<circle cx="135.50" cy="393.40" r="1.25" fill="#d888e0" fill-opacity="0.85"/>
<circle cx="135.50" cy="391.78" r="1.25" fill="#5080e0" fill-opacity="0.85"/>
<circle cx="135.50" cy="390.15" r="1.25" fill="#308888" fill-opacity="0.85"/>
<circle cx="135.50" cy="388.53" r="1.25" fill="#40b0f0" fill-opacity="0.85"/>
<circle cx="135.50" cy="386.91" r="1.25" fill="#5080e0" fill-opacity="0.85"/>
<circle cx="135.50" cy="385.29" r="1.25" fill="#5080e0" fill-opacity="0.85"/>
<circle cx="135.50" cy="383.66" r="1.25" fill="#5080e0" fill-opacity="0.85"/>
<circle cx="135.50" cy="382.04" r="1.25" fill="#5080e0" fill-opacity="0.85"/>
<circle cx="135.50" cy="380.42" r="1.25" fill="#7262d6" fill-opacity="0.85"/>
<circle cx="135.50" cy="378.80" r="1.25" fill="#306a30" fill-opacity="0.85"/>
<circle cx="140.90" cy="393.40" r="1.25" fill="#7262d6" fill-opacity="0.85"/>
<circle cx="140.90" cy="391.78" r="1.25" fill="#308888" fill-opacity="0.85"/>
<circle cx="140.90" cy="390.15" r="1.25" fill="#3a9a50" fill-opacity="0.85"/>
<circle cx="140.90" cy="388.53" r="1.25" fill="#d888e0" fill-opacity="0.85"/>
<circle cx="140.90" cy="386.91" r="1.25" fill="#306a30" fill-opacity="0.85"/>
<circle cx="140.90" cy="385.29" r="1.25" fill="#5080e0" fill-opacity="0.85"/>
<circle cx="140.90" cy="383.66" r="1.25" fill="#306a30" fill-opacity="0.85"/>
<circle cx="146.30" cy="393.40" r="1.25" fill="#d888e0" fill-opacity="0.85"/>
<circle cx="146.30" cy="391.78" r="1.25" fill="#7262d6" fill-opacity="0.85"/>
<circle cx="146.30" cy="390.15" r="1.25" fill="#7262d6" fill-opacity="0.85"/>
<circle cx="146.30" cy="388.53" r="1.25" fill="#5080e0" fill-opacity="0.85"/>
<circle cx="146.30" cy="386.91" r="1.25" fill="#40b0f0" fill-opacity="0.85"/>
<circle cx="146.30" cy="385.29" r="1.25" fill="#7262d6" fill-opacity="0.85"/>
<circle cx="146.30" cy="383.66" r="1.25" fill="#5080e0" fill-opacity="0.85"/>
<circle cx="146.30" cy="382.04" r="1.25" fill="#5080e0" fill-opacity="0.85"/>
<circle cx="146.30" cy="380.42" r="1.25" fill="#7262d6" fill-opacity="0.85"/>
<circle cx="151.70" cy="393.40" r="1.25" fill="#308888" fill-opacity="0.85"/>
<circle cx="151.70" cy="391.78" r="1.25" fill="#306a30" fill-opacity="0.85"/>
<circle cx="151.70" cy="390.15" r="1.25" fill="#d888e0" fill-opacity="0.85"/>
<circle cx="151.70" cy="388.53" r="1.25" fill="#40b0f0" fill-opacity="0.85"/>
<circle cx="151.70" cy="386.91" r="1.25" fill="#306a30" fill-opacity="0.85"/>
<circle cx="151.70" cy="385.29" r="1.25" fill="#7262d6" fill-opacity="0.85"/>
<circle cx="151.70" cy="383.66" r="1.25" fill="#5080e0" fill-opacity="0.85"/>
<circle cx="157.10" cy="393.40" r="1.25" fill="#5080e0" fill-opacity="0.85"/>
<circle cx="157.10" cy="391.78" r="1.25" fill="#5080e0" fill-opacity="0.85"/>
<circle cx="157.10" cy="390.15" r="1.25" fill="#308888" fill-opacity="0.85"/>
<circle cx="157.10" cy="388.53" r="1.25" fill="#3a9a50" fill-opacity="0.85"/>
<circle cx="157.10" cy="386.91" r="1.25" fill="#5080e0" fill-opacity="0.85"/>
<circle cx="157.10" cy="385.29" r="1.25" fill="#d888e0" fill-opacity="0.85"/>
<circle cx="162.50" cy="393.40" r="1.25" fill="#5080e0" fill-opacity="0.85"/>
<circle cx="162.50" cy="391.78" r="1.25" fill="#306a30" fill-opacity="0.85"/>
<circle cx="162.50" cy="390.15" r="1.25" fill="#3a9a50" fill-opacity="0.85"/>
<circle cx="162.50" cy="388.53" r="1.25" fill="#5080e0" fill-opacity="0.85"/>
<circle cx="167.90" cy="393.40" r="1.25" fill="#7262d6" fill-opacity="0.85"/>
<circle cx="167.90" cy="391.78" r="1.25" fill="#5080e0" fill-opacity="0.85"/>
<circle cx="167.90" cy="390.15" r="1.25" fill="#308888" fill-opacity="0.85"/>
<circle cx="167.90" cy="388.53" r="1.25" fill="#5080e0" fill-opacity="0.85"/>
<circle cx="173.30" cy="393.40" r="1.25" fill="#d888e0" fill-opacity="0.85"/>
<circle cx="173.30" cy="391.78" r="1.25" fill="#d888e0" fill-opacity="0.85"/>
<circle cx="173.30" cy="390.15" r="1.25" fill="#40b0f0" fill-opacity="0.85"/>
<circle cx="178.70" cy="393.40" r="1.25" fill="#d888e0" fill-opacity="0.85"/>
<circle cx="178.70" cy="391.78" r="1.25" fill="#5080e0" fill-opacity="0.85"/>
<circle cx="178.70" cy="390.15" r="1.25" fill="#306a30" fill-opacity="0.85"/>
<circle cx="178.70" cy="388.53" r="1.25" fill="#5080e0" fill-opacity="0.85"/>
<circle cx="103.10" cy="393.40" r="1.25" fill="#306a30" fill-opacity="0.85"/>
<circle cx="103.10" cy="391.78" r="1.25" fill="#5080e0" fill-opacity="0.85"/>
<circle cx="103.10" cy="390.15" r="1.25" fill="#5080e0" fill-opacity="0.85"/>
<circle cx="103.10" cy="388.53" r="1.25" fill="#7262d6" fill-opacity="0.85"/>
<circle cx="103.10" cy="386.91" r="1.25" fill="#306a30" fill-opacity="0.85"/>
<rect x="47.4" y="320.9" width="177.0" height="75.30000000000001" fill="none" stroke="#404040" stroke-width="1.3"/>
<path d="M86.90,396.2v2.2 M140.90,396.2v2.2 M194.90,396.2v2.2 M59.90,396.2v1.6 M113.90,396.2v1.6 M167.90,396.2v1.6 M221.90,396.2v1.6 M47.4,393.40h-2.2 M47.4,363.90h-2.2 M47.4,334.40h-2.2 M47.4,378.65h-1.6 M47.4,349.15h-1.6" stroke="#333" stroke-width="0.8"/>
<text x="43.60" y="396.00" font-size="7.4" text-anchor="end" font-weight="bold" textLength="2.80" lengthAdjust="spacingAndGlyphs" fill="#231f20">0</text>
<text x="43.60" y="366.50" font-size="7.4" text-anchor="end" font-weight="bold" textLength="7.60" lengthAdjust="spacingAndGlyphs" fill="#231f20">0.2</text>
<text x="43.60" y="337.00" font-size="7.4" text-anchor="end" font-weight="bold" textLength="7.60" lengthAdjust="spacingAndGlyphs" fill="#231f20">0.4</text>
<text x="86.90" y="404.20" font-size="7.4" text-anchor="middle" font-weight="bold" textLength="3.20" lengthAdjust="spacingAndGlyphs" fill="#231f20">0</text>
<text x="140.90" y="404.20" font-size="7.4" text-anchor="middle" font-weight="bold" textLength="6.30" lengthAdjust="spacingAndGlyphs" fill="#231f20">10</text>
<text x="194.90" y="404.20" font-size="7.4" text-anchor="middle" font-weight="bold" textLength="6.30" lengthAdjust="spacingAndGlyphs" fill="#231f20">20</text>
<text x="51.00" y="331.80" font-size="8.0" text-anchor="start" font-weight="bold" textLength="23.60" lengthAdjust="spacingAndGlyphs" fill="#231f20">Phacord1</text>
<text x="83.60" y="420.20" font-size="8.8" text-anchor="start" font-weight="bold" textLength="97.00" lengthAdjust="spacingAndGlyphs" fill="#231f20">Expansions/contractions per Pfam</text>
<text x="24.2" y="295.6" font-size="9.4" font-weight="bold" textLength="82.3" lengthAdjust="spacingAndGlyphs" fill="#231f20" transform="rotate(-90 24.2 295.6)">Mean RPM of Pfam members</text>
</svg></body></html>
